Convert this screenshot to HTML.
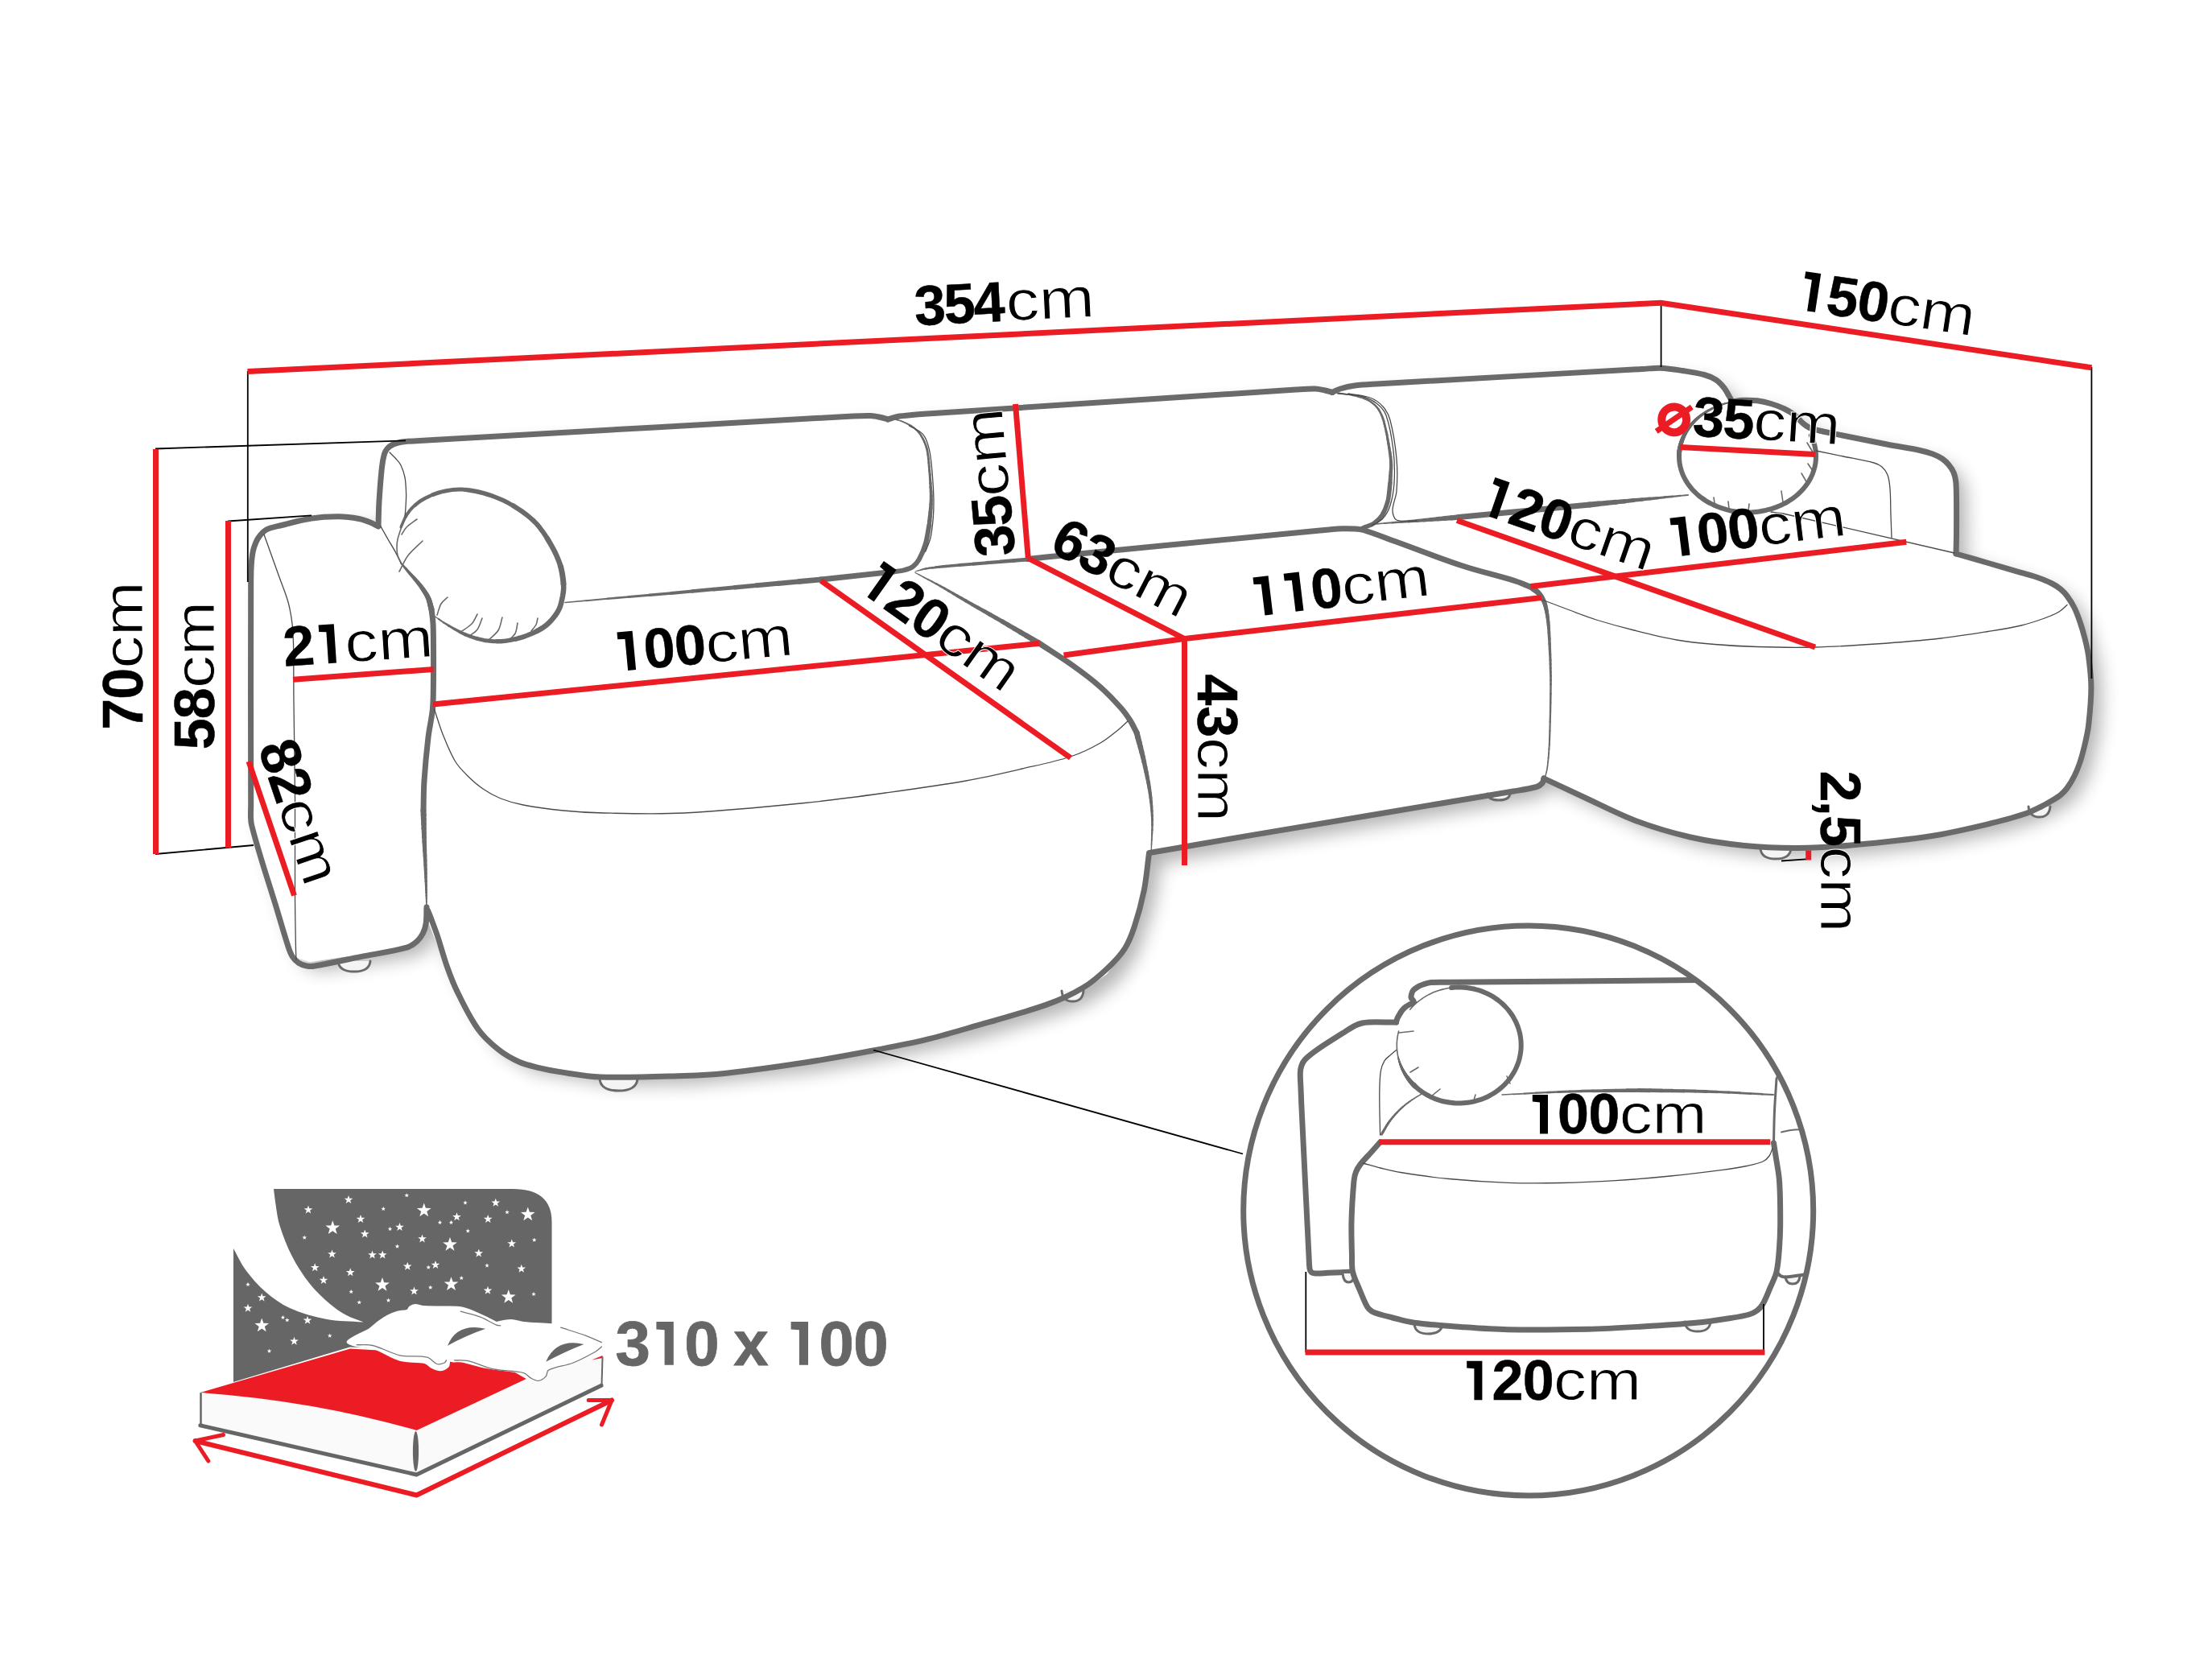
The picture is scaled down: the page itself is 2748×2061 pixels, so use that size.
<!DOCTYPE html>
<html><head><meta charset="utf-8"><title>Sofa dimensions</title>
<style>
html,body{margin:0;padding:0;background:#fff;}
body{width:2748px;height:2061px;overflow:hidden;}
svg{display:block;font-family:"Liberation Sans",sans-serif;}
</style></head><body>
<svg width="2748" height="2061" viewBox="0 0 2748 2061">
<defs>
<filter id="sh" x="-5%" y="-5%" width="112%" height="115%">
<feGaussianBlur in="SourceAlpha" stdDeviation="11"/>
<feOffset dx="13" dy="11" result="o"/>
<feComponentTransfer><feFuncA type="linear" slope="0.3"/></feComponentTransfer>
<feMerge><feMergeNode/><feMergeNode in="SourceGraphic"/></feMerge>
</filter>
</defs>
<rect width="2748" height="2061" fill="#fff"/>
<path d="M312 700 L318 673 L330 658 L387 642.5 L445 642 L470 652 L472 605 L477 565 L487 553 L504 548 L1080 516 L1103 520 L1133 515 L1633 482.5 L1655 487 L1683 478.5 L2063 457 L2117 465.5 L2142 482 L2152 498 L2183 497.5 L2217 507.5 L2240 526 L2260 535 L2344 552 L2401 564 L2421 577.5 L2429.5 598 L2430.5 653 L2430 687 L2505 709.8 L2549 725 L2568 740.6 L2584 772 L2595 816 L2598 853 L2595 900 L2584 947 L2568 979 L2549 994.5 L2518 1010 L2474 1022.7 L2400 1038.5 L2300 1050 L2233 1053.5 L2167 1050.5 L2100 1040 L2033 1020 L1967 990 L1917 967 L1900 980 L1430 1061 L1420 1115 L1400 1175 L1375 1210 L1340 1235 L1300 1250 L1200 1280 L1085 1305 L1000 1320 L850 1336 L750 1337 L650 1320 L610 1295 L580 1250 L550 1190 L530 1140 L521 1167 L503 1177 L385 1195 L365 1188 L350 1155 L312 1024Z" fill="#fff" filter="url(#sh)"/>
<path d="M420 1194 Q421 1207 440 1207 Q459 1207 460 1194" fill="#f4f4f4" stroke="#6a6a6a" stroke-width="3" stroke-linecap="round" stroke-linejoin="round" />
<path d="M1319 1231 Q1320 1244 1332.5 1244 Q1345 1244 1346 1231" fill="#f4f4f4" stroke="#6a6a6a" stroke-width="3" stroke-linecap="round" stroke-linejoin="round" />
<path d="M745 1340 Q746 1355 768.5 1355 Q791 1355 792 1340" fill="#f4f4f4" stroke="#6a6a6a" stroke-width="3" stroke-linecap="round" stroke-linejoin="round" />
<path d="M1848 986 Q1849 994 1862 994 Q1875 994 1876 986" fill="#f4f4f4" stroke="#6a6a6a" stroke-width="3" stroke-linecap="round" stroke-linejoin="round" />
<path d="M2187 1054 Q2188 1067 2206 1067 Q2224 1067 2225 1054" fill="#f4f4f4" stroke="#6a6a6a" stroke-width="3" stroke-linecap="round" stroke-linejoin="round" />
<path d="M2520 1002 Q2521 1015 2533.5 1015 Q2546 1015 2547 1002" fill="#f4f4f4" stroke="#6a6a6a" stroke-width="3" stroke-linecap="round" stroke-linejoin="round" />
<path d="M530 1127 C529.7 1133.7 530.1 1140.4 529.2 1147 C528.6 1151.3 527.3 1155.7 525.4 1159.5 C523.5 1163.2 520.9 1166.9 517.8 1169.6 C514.2 1172.8 509.9 1175.9 505.2 1177.2 C486.6 1182.3 467.1 1184.8 448 1188.6 C429.1 1192.4 410.3 1196.8 391.3 1200 C387.9 1200.6 384.3 1200.6 381 1200 C377.6 1199.4 373.9 1198.1 371 1196.2 C368.1 1194.3 365.3 1191.5 363.4 1188.6 C361.1 1185.2 359.7 1181.1 358.4 1177.2 C353.6 1162.6 349.4 1147.7 345 1133 C334.2 1097 321.7 1061.3 312.6 1025 C310.6 1017 311.7 1008.3 311.7 1000 C311.4 906.7 311.5 813.3 311.7 720 C311.7 712.7 311.9 705.3 312.5 698 C313 692.6 313.5 687.2 315 682 C316.4 677.2 318.2 672.1 321 668 C323.6 664.1 327 660.2 331 658 C336.6 655 343.6 654.1 350 652.5 C362.3 649.4 374.5 645.9 387 644 C398.2 642.3 409.7 641.7 421 641.8 C429.4 641.9 437.8 643 446 644.5 C450.8 645.4 455.5 647.2 460 649 C463.5 650.4 466.7 652.3 470 654" fill="none" stroke="#6a6a6a" stroke-width="7" stroke-linecap="round" stroke-linejoin="round" />
<path d="M470 653.5 C470.3 643.3 470.4 633.2 471 623 C471.9 608.7 472.9 594.3 474.5 580 C475.1 574.6 476 569.2 477.5 564 C478.2 561.7 479.4 559.3 481 557.5 C482.8 555.5 485.1 553.7 487.5 552.5 C490.4 551 493.8 550.3 497 549.5 C499.3 548.9 501.7 548.7 504 548.5 C512.7 547.8 521.3 547.5 530 547 C706.7 537 883.3 526.8 1060 517 C1067.3 516.6 1074.7 516.2 1082 516.5 C1086 516.7 1090 517.7 1094 518.5 C1097 519.2 1100 520.2 1103 521" fill="none" stroke="#6a6a6a" stroke-width="7" stroke-linecap="round" stroke-linejoin="round" />
<line x1="1103" y1="520" x2="1104.8" y2="520.2" stroke="#6a6a6a" stroke-width="1.2" stroke-linecap="round"/>
<line x1="1104.8" y1="520.2" x2="1106.7" y2="520.4" stroke="#6a6a6a" stroke-width="1.2" stroke-linecap="round"/>
<line x1="1106.7" y1="520.4" x2="1108.5" y2="520.6" stroke="#6a6a6a" stroke-width="1.3" stroke-linecap="round"/>
<line x1="1108.5" y1="520.6" x2="1110.4" y2="520.8" stroke="#6a6a6a" stroke-width="1.3" stroke-linecap="round"/>
<line x1="1110.4" y1="520.8" x2="1112.2" y2="521.1" stroke="#6a6a6a" stroke-width="1.4" stroke-linecap="round"/>
<line x1="1112.2" y1="521.1" x2="1114" y2="521.5" stroke="#6a6a6a" stroke-width="1.4" stroke-linecap="round"/>
<line x1="1114" y1="521.5" x2="1115.7" y2="521.9" stroke="#6a6a6a" stroke-width="1.5" stroke-linecap="round"/>
<line x1="1115.7" y1="521.9" x2="1117.4" y2="522.4" stroke="#6a6a6a" stroke-width="1.5" stroke-linecap="round"/>
<line x1="1117.4" y1="522.4" x2="1119.1" y2="523" stroke="#6a6a6a" stroke-width="1.5" stroke-linecap="round"/>
<line x1="1119.1" y1="523" x2="1120.7" y2="523.6" stroke="#6a6a6a" stroke-width="1.6" stroke-linecap="round"/>
<line x1="1120.7" y1="523.6" x2="1122.4" y2="524.3" stroke="#6a6a6a" stroke-width="1.6" stroke-linecap="round"/>
<line x1="1122.4" y1="524.3" x2="1124" y2="525" stroke="#6a6a6a" stroke-width="1.7" stroke-linecap="round"/>
<line x1="1124" y1="525" x2="1125.7" y2="525.8" stroke="#6a6a6a" stroke-width="1.7" stroke-linecap="round"/>
<line x1="1125.7" y1="525.8" x2="1127.4" y2="526.6" stroke="#6a6a6a" stroke-width="1.8" stroke-linecap="round"/>
<line x1="1127.4" y1="526.6" x2="1129.1" y2="527.5" stroke="#6a6a6a" stroke-width="1.8" stroke-linecap="round"/>
<line x1="1129.1" y1="527.5" x2="1130.8" y2="528.4" stroke="#6a6a6a" stroke-width="1.8" stroke-linecap="round"/>
<line x1="1130.8" y1="528.4" x2="1132.4" y2="529.4" stroke="#6a6a6a" stroke-width="1.9" stroke-linecap="round"/>
<line x1="1132.4" y1="529.4" x2="1134" y2="530.5" stroke="#6a6a6a" stroke-width="1.9" stroke-linecap="round"/>
<line x1="1134" y1="530.5" x2="1135.5" y2="531.6" stroke="#6a6a6a" stroke-width="2" stroke-linecap="round"/>
<line x1="1135.5" y1="531.6" x2="1136.9" y2="532.8" stroke="#6a6a6a" stroke-width="2" stroke-linecap="round"/>
<line x1="1136.9" y1="532.8" x2="1138.2" y2="534" stroke="#6a6a6a" stroke-width="2.1" stroke-linecap="round"/>
<line x1="1138.2" y1="534" x2="1139.6" y2="535.3" stroke="#6a6a6a" stroke-width="2.1" stroke-linecap="round"/>
<line x1="1139.6" y1="535.3" x2="1140.8" y2="536.6" stroke="#6a6a6a" stroke-width="2.1" stroke-linecap="round"/>
<line x1="1140.8" y1="536.6" x2="1142" y2="538" stroke="#6a6a6a" stroke-width="2.2" stroke-linecap="round"/>
<line x1="1142" y1="538" x2="1143.1" y2="539.4" stroke="#6a6a6a" stroke-width="2.2" stroke-linecap="round"/>
<line x1="1143.1" y1="539.4" x2="1144.1" y2="540.8" stroke="#6a6a6a" stroke-width="2.3" stroke-linecap="round"/>
<line x1="1144.1" y1="540.8" x2="1145" y2="542.3" stroke="#6a6a6a" stroke-width="2.3" stroke-linecap="round"/>
<line x1="1145" y1="542.3" x2="1145.9" y2="543.9" stroke="#6a6a6a" stroke-width="2.4" stroke-linecap="round"/>
<line x1="1145.9" y1="543.9" x2="1146.7" y2="545.4" stroke="#6a6a6a" stroke-width="2.4" stroke-linecap="round"/>
<line x1="1146.7" y1="545.4" x2="1147.5" y2="547" stroke="#6a6a6a" stroke-width="2.4" stroke-linecap="round"/>
<line x1="1147.5" y1="547" x2="1148.4" y2="549.1" stroke="#6a6a6a" stroke-width="2.5" stroke-linecap="round"/>
<line x1="1148.4" y1="549.1" x2="1149.3" y2="551.2" stroke="#6a6a6a" stroke-width="2.5" stroke-linecap="round"/>
<line x1="1149.3" y1="551.2" x2="1150.2" y2="553.4" stroke="#6a6a6a" stroke-width="2.6" stroke-linecap="round"/>
<line x1="1150.2" y1="553.4" x2="1150.9" y2="555.6" stroke="#6a6a6a" stroke-width="2.6" stroke-linecap="round"/>
<line x1="1150.9" y1="555.6" x2="1151.5" y2="557.8" stroke="#6a6a6a" stroke-width="2.7" stroke-linecap="round"/>
<line x1="1151.5" y1="557.8" x2="1152" y2="560" stroke="#6a6a6a" stroke-width="2.7" stroke-linecap="round"/>
<line x1="1152" y1="560" x2="1152.8" y2="564.9" stroke="#6a6a6a" stroke-width="2.7" stroke-linecap="round"/>
<line x1="1152.8" y1="564.9" x2="1153.4" y2="569.8" stroke="#6a6a6a" stroke-width="2.8" stroke-linecap="round"/>
<line x1="1153.4" y1="569.8" x2="1153.9" y2="574.8" stroke="#6a6a6a" stroke-width="2.8" stroke-linecap="round"/>
<line x1="1153.9" y1="574.8" x2="1154.3" y2="579.8" stroke="#6a6a6a" stroke-width="2.9" stroke-linecap="round"/>
<line x1="1154.3" y1="579.8" x2="1154.7" y2="584.7" stroke="#6a6a6a" stroke-width="2.9" stroke-linecap="round"/>
<line x1="1154.7" y1="584.7" x2="1155.2" y2="589.7" stroke="#6a6a6a" stroke-width="3" stroke-linecap="round"/>
<line x1="1155.2" y1="589.7" x2="1155.5" y2="594.9" stroke="#6a6a6a" stroke-width="3" stroke-linecap="round"/>
<line x1="1155.5" y1="594.9" x2="1155.9" y2="600.1" stroke="#6a6a6a" stroke-width="3.2" stroke-linecap="round"/>
<line x1="1155.9" y1="600.1" x2="1156.2" y2="605.4" stroke="#6a6a6a" stroke-width="3.4" stroke-linecap="round"/>
<line x1="1156.2" y1="605.4" x2="1156.6" y2="610.6" stroke="#6a6a6a" stroke-width="3.6" stroke-linecap="round"/>
<line x1="1156.6" y1="610.6" x2="1156.8" y2="615.8" stroke="#6a6a6a" stroke-width="3.8" stroke-linecap="round"/>
<line x1="1156.8" y1="615.8" x2="1156.8" y2="621" stroke="#6a6a6a" stroke-width="4" stroke-linecap="round"/>
<line x1="1156.8" y1="621" x2="1156.6" y2="626.2" stroke="#6a6a6a" stroke-width="4.2" stroke-linecap="round"/>
<line x1="1156.6" y1="626.2" x2="1156.3" y2="631.5" stroke="#6a6a6a" stroke-width="4.5" stroke-linecap="round"/>
<line x1="1156.3" y1="631.5" x2="1155.8" y2="636.7" stroke="#6a6a6a" stroke-width="4.7" stroke-linecap="round"/>
<line x1="1155.8" y1="636.7" x2="1155.3" y2="641.9" stroke="#6a6a6a" stroke-width="4.9" stroke-linecap="round"/>
<line x1="1155.3" y1="641.9" x2="1154.8" y2="647.2" stroke="#6a6a6a" stroke-width="5.1" stroke-linecap="round"/>
<line x1="1154.8" y1="647.2" x2="1154.4" y2="652.4" stroke="#6a6a6a" stroke-width="5.3" stroke-linecap="round"/>
<path d="M1154.4 652.4 C1152.8 660.2 1152 668.3 1149.7 675.9 C1147.8 682.4 1145.2 688.8 1141.9 694.7 C1139.9 698.2 1137.2 701.7 1134 704 C1130.9 706.2 1126.8 707.3 1123 708.3 C1118.9 709.4 1114.7 709.6 1110.5 710.2" fill="none" stroke="#6a6a6a" stroke-width="6" stroke-linecap="round" stroke-linejoin="round" />
<path d="M1110.5 710.2 L1020 720" fill="none" stroke="#6a6a6a" stroke-width="6.8" stroke-linecap="round" stroke-linejoin="round" />
<line x1="1020" y1="720" x2="993.3" y2="722.4" stroke="#6a6a6a" stroke-width="6.8" stroke-linecap="round"/>
<line x1="993.3" y1="722.4" x2="966.7" y2="724.8" stroke="#6a6a6a" stroke-width="6.3" stroke-linecap="round"/>
<line x1="966.7" y1="724.8" x2="940" y2="727.3" stroke="#6a6a6a" stroke-width="5.9" stroke-linecap="round"/>
<line x1="940" y1="727.3" x2="913.3" y2="729.7" stroke="#6a6a6a" stroke-width="5.4" stroke-linecap="round"/>
<line x1="913.3" y1="729.7" x2="886.7" y2="732.1" stroke="#6a6a6a" stroke-width="4.9" stroke-linecap="round"/>
<line x1="886.7" y1="732.1" x2="860" y2="734.5" stroke="#6a6a6a" stroke-width="4.5" stroke-linecap="round"/>
<line x1="860" y1="734.5" x2="833.7" y2="736.9" stroke="#6a6a6a" stroke-width="4" stroke-linecap="round"/>
<line x1="833.7" y1="736.9" x2="807.3" y2="739.2" stroke="#6a6a6a" stroke-width="3.5" stroke-linecap="round"/>
<line x1="807.3" y1="739.2" x2="781" y2="741.5" stroke="#6a6a6a" stroke-width="3.1" stroke-linecap="round"/>
<line x1="781" y1="741.5" x2="754.7" y2="743.8" stroke="#6a6a6a" stroke-width="2.6" stroke-linecap="round"/>
<line x1="754.7" y1="743.8" x2="728.3" y2="746.2" stroke="#6a6a6a" stroke-width="2.1" stroke-linecap="round"/>
<line x1="728.3" y1="746.2" x2="702" y2="748.5" stroke="#6a6a6a" stroke-width="1.7" stroke-linecap="round"/>
<path d="M1103 521 C1107 519.8 1110.9 518.2 1115 517.5 C1120.9 516.4 1127 516 1133 515.5 C1142 514.7 1151 514.1 1160 513.5 C1310 503.6 1460 493.7 1610 484 C1618 483.5 1626 482.8 1634 483 C1638 483.1 1642 484.2 1646 485 C1649 485.7 1652 486.7 1655 487.5" fill="none" stroke="#6a6a6a" stroke-width="7" stroke-linecap="round" stroke-linejoin="round" />
<line x1="1655" y1="487" x2="1657.2" y2="487.3" stroke="#6a6a6a" stroke-width="1.2" stroke-linecap="round"/>
<line x1="1657.2" y1="487.3" x2="1659.3" y2="487.7" stroke="#6a6a6a" stroke-width="1.2" stroke-linecap="round"/>
<line x1="1659.3" y1="487.7" x2="1661.5" y2="488" stroke="#6a6a6a" stroke-width="1.3" stroke-linecap="round"/>
<line x1="1661.5" y1="488" x2="1663.7" y2="488.3" stroke="#6a6a6a" stroke-width="1.3" stroke-linecap="round"/>
<line x1="1663.7" y1="488.3" x2="1665.8" y2="488.6" stroke="#6a6a6a" stroke-width="1.4" stroke-linecap="round"/>
<line x1="1665.8" y1="488.6" x2="1668" y2="489" stroke="#6a6a6a" stroke-width="1.4" stroke-linecap="round"/>
<line x1="1668" y1="489" x2="1670.3" y2="489.4" stroke="#6a6a6a" stroke-width="1.5" stroke-linecap="round"/>
<line x1="1670.3" y1="489.4" x2="1672.7" y2="489.7" stroke="#6a6a6a" stroke-width="1.6" stroke-linecap="round"/>
<line x1="1672.7" y1="489.7" x2="1675" y2="490.1" stroke="#6a6a6a" stroke-width="1.6" stroke-linecap="round"/>
<line x1="1675" y1="490.1" x2="1677.4" y2="490.5" stroke="#6a6a6a" stroke-width="1.6" stroke-linecap="round"/>
<line x1="1677.4" y1="490.5" x2="1679.7" y2="491" stroke="#6a6a6a" stroke-width="1.7" stroke-linecap="round"/>
<line x1="1679.7" y1="491" x2="1682" y2="491.5" stroke="#6a6a6a" stroke-width="1.8" stroke-linecap="round"/>
<line x1="1682" y1="491.5" x2="1684.9" y2="492.2" stroke="#6a6a6a" stroke-width="1.8" stroke-linecap="round"/>
<line x1="1684.9" y1="492.2" x2="1687.8" y2="493" stroke="#6a6a6a" stroke-width="1.9" stroke-linecap="round"/>
<line x1="1687.8" y1="493" x2="1690.7" y2="493.8" stroke="#6a6a6a" stroke-width="1.9" stroke-linecap="round"/>
<line x1="1690.7" y1="493.8" x2="1693.6" y2="494.7" stroke="#6a6a6a" stroke-width="1.9" stroke-linecap="round"/>
<line x1="1693.6" y1="494.7" x2="1696.3" y2="495.8" stroke="#6a6a6a" stroke-width="2" stroke-linecap="round"/>
<line x1="1696.3" y1="495.8" x2="1699" y2="497" stroke="#6a6a6a" stroke-width="2" stroke-linecap="round"/>
<line x1="1699" y1="497" x2="1701.2" y2="498.2" stroke="#6a6a6a" stroke-width="2.1" stroke-linecap="round"/>
<line x1="1701.2" y1="498.2" x2="1703.4" y2="499.6" stroke="#6a6a6a" stroke-width="2.1" stroke-linecap="round"/>
<line x1="1703.4" y1="499.6" x2="1705.5" y2="501.2" stroke="#6a6a6a" stroke-width="2.2" stroke-linecap="round"/>
<line x1="1705.5" y1="501.2" x2="1707.5" y2="502.8" stroke="#6a6a6a" stroke-width="2.2" stroke-linecap="round"/>
<line x1="1707.5" y1="502.8" x2="1709.3" y2="504.6" stroke="#6a6a6a" stroke-width="2.3" stroke-linecap="round"/>
<line x1="1709.3" y1="504.6" x2="1711" y2="506.5" stroke="#6a6a6a" stroke-width="2.3" stroke-linecap="round"/>
<line x1="1711" y1="506.5" x2="1712.5" y2="508.5" stroke="#6a6a6a" stroke-width="2.4" stroke-linecap="round"/>
<line x1="1712.5" y1="508.5" x2="1713.8" y2="510.6" stroke="#6a6a6a" stroke-width="2.5" stroke-linecap="round"/>
<line x1="1713.8" y1="510.6" x2="1715" y2="512.9" stroke="#6a6a6a" stroke-width="2.5" stroke-linecap="round"/>
<line x1="1715" y1="512.9" x2="1716.1" y2="515.2" stroke="#6a6a6a" stroke-width="2.5" stroke-linecap="round"/>
<line x1="1716.1" y1="515.2" x2="1717.1" y2="517.6" stroke="#6a6a6a" stroke-width="2.6" stroke-linecap="round"/>
<line x1="1717.1" y1="517.6" x2="1718" y2="520" stroke="#6a6a6a" stroke-width="2.7" stroke-linecap="round"/>
<line x1="1718" y1="520" x2="1719.1" y2="523.2" stroke="#6a6a6a" stroke-width="2.7" stroke-linecap="round"/>
<line x1="1719.1" y1="523.2" x2="1719.9" y2="526.6" stroke="#6a6a6a" stroke-width="2.8" stroke-linecap="round"/>
<line x1="1719.9" y1="526.6" x2="1720.7" y2="529.9" stroke="#6a6a6a" stroke-width="2.8" stroke-linecap="round"/>
<line x1="1720.7" y1="529.9" x2="1721.5" y2="533.3" stroke="#6a6a6a" stroke-width="2.8" stroke-linecap="round"/>
<line x1="1721.5" y1="533.3" x2="1722.2" y2="536.6" stroke="#6a6a6a" stroke-width="2.9" stroke-linecap="round"/>
<line x1="1722.2" y1="536.6" x2="1723" y2="540" stroke="#6a6a6a" stroke-width="3" stroke-linecap="round"/>
<line x1="1723" y1="540" x2="1723.9" y2="545.5" stroke="#6a6a6a" stroke-width="3" stroke-linecap="round"/>
<line x1="1723.9" y1="545.5" x2="1724.9" y2="551" stroke="#6a6a6a" stroke-width="3.2" stroke-linecap="round"/>
<line x1="1724.9" y1="551" x2="1725.8" y2="556.5" stroke="#6a6a6a" stroke-width="3.3" stroke-linecap="round"/>
<line x1="1725.8" y1="556.5" x2="1726.7" y2="562" stroke="#6a6a6a" stroke-width="3.5" stroke-linecap="round"/>
<line x1="1726.7" y1="562" x2="1727.5" y2="567.5" stroke="#6a6a6a" stroke-width="3.7" stroke-linecap="round"/>
<line x1="1727.5" y1="567.5" x2="1728" y2="573" stroke="#6a6a6a" stroke-width="3.8" stroke-linecap="round"/>
<line x1="1728" y1="573" x2="1728.2" y2="577.5" stroke="#6a6a6a" stroke-width="4" stroke-linecap="round"/>
<line x1="1728.2" y1="577.5" x2="1728.1" y2="582" stroke="#6a6a6a" stroke-width="4.2" stroke-linecap="round"/>
<line x1="1728.1" y1="582" x2="1727.8" y2="586.5" stroke="#6a6a6a" stroke-width="4.3" stroke-linecap="round"/>
<line x1="1727.8" y1="586.5" x2="1727.5" y2="591" stroke="#6a6a6a" stroke-width="4.5" stroke-linecap="round"/>
<line x1="1727.5" y1="591" x2="1727.2" y2="595.5" stroke="#6a6a6a" stroke-width="4.7" stroke-linecap="round"/>
<line x1="1727.2" y1="595.5" x2="1727" y2="600" stroke="#6a6a6a" stroke-width="4.8" stroke-linecap="round"/>
<path d="M1727 600 C1726 607.7 1725.9 615.6 1724 623 C1722.5 628.9 1720.2 634.9 1717 640 C1714.5 643.9 1710.9 647.4 1707 650 C1702.9 652.8 1697.7 654 1693 656" fill="none" stroke="#6a6a6a" stroke-width="5.5" stroke-linecap="round" stroke-linejoin="round" />
<path d="M1655 487.5 C1658.3 486 1661.5 484.1 1665 483 C1670.9 481.2 1676.9 479.8 1683 479 C1691.9 477.8 1701 477.5 1710 477 C1820 470.7 1930 464.7 2040 458.5 C2047.7 458.1 2055.4 456.9 2063 457.2 C2072 457.6 2081 459.1 2090 460.5 C2099 461.9 2108.2 463.1 2117 465.5 C2122.2 466.9 2127.5 469.1 2132 472 C2135.9 474.6 2139.1 478.3 2142 482 C2144.4 485 2146 488.6 2148 492 C2149.4 494.3 2150.7 496.7 2152 499" fill="none" stroke="#6a6a6a" stroke-width="7" stroke-linecap="round" stroke-linejoin="round" />
<path d="M2152 499 C2156.3 498.4 2160.6 497.5 2165 497.3 C2171 497.1 2177.1 497.1 2183 497.8 C2188.7 498.5 2194.5 499.8 2200 501.5 C2205.8 503.2 2211.6 505.4 2217 508 C2221.6 510.2 2226 512.9 2230 516 C2233.7 518.9 2236.4 522.9 2240 526 C2242.4 528.1 2245.1 530.2 2248 531.5 C2251.8 533.2 2256 534 2260 535 C2265.6 536.4 2271.3 537.4 2277 538.5 C2299.3 543 2321.6 547.7 2344 552 C2357.6 554.7 2371.4 556.6 2385 559.5 C2390.4 560.6 2395.8 562.1 2401 564 C2405.2 565.6 2409.3 567.5 2413 570 C2416 572 2418.7 574.7 2421 577.5 C2423.4 580.4 2425.6 583.6 2427 587 C2428.5 590.4 2429.3 594.3 2429.7 598 C2430.5 605.3 2430.4 612.7 2430.5 620 C2430.7 635 2430.6 650 2430.5 665 C2430.4 672.7 2430.2 680.3 2430 688" fill="none" stroke="#6a6a6a" stroke-width="7" stroke-linecap="round" stroke-linejoin="round" />
<path d="M2430 688 C2443.3 691.8 2456.7 695.6 2470 699.5 C2481.8 702.9 2493.6 706.4 2505.4 709.8 C2513.6 712.2 2521.9 714.2 2530 717 C2536.6 719.3 2543.1 721.9 2549.3 725 C2553.1 726.9 2556.7 729.3 2560 732 C2563 734.5 2565.8 737.4 2568.1 740.6 C2571.4 745.1 2574.5 750 2577 755 C2579.7 760.4 2581.8 766.2 2583.8 772 C2586.2 778.9 2588.2 785.9 2590 793 C2591.9 800.6 2593.7 808.2 2594.7 815.9 C2596.3 828.4 2597.9 841 2597.9 853.5 C2597.9 869.2 2596.4 884.9 2594.7 900.5 C2593.8 908.8 2591.9 916.9 2590 925 C2588.2 932.6 2586.3 940.1 2583.8 947.5 C2581.9 953.1 2579.7 958.7 2577 964 C2574.4 969.2 2571.5 974.2 2568.1 978.9 C2565.8 982.1 2563 985 2560 987.5 C2556.7 990.2 2553 992.3 2549.3 994.5 C2544.6 997.3 2539.9 1000.1 2535 1002.5 C2529.4 1005.3 2523.8 1008.2 2517.9 1010.2 C2503.5 1015 2488.8 1019.2 2474 1022.7 C2449.5 1028.6 2424.9 1034.6 2400 1038.5 C2366.9 1043.7 2333.4 1047 2300 1050 C2277.7 1052 2255.3 1053.4 2233 1053.5 C2211 1053.6 2188.9 1052.7 2167 1050.5 C2144.5 1048.2 2122 1045 2100 1040 C2077.3 1034.8 2054.8 1028.2 2033 1020 C2010.4 1011.5 1988.9 1000.1 1967 990 C1950.6 982.4 1934.3 974.7 1918 967" fill="none" stroke="#6a6a6a" stroke-width="7" stroke-linecap="round" stroke-linejoin="round" />
<path d="M1918 967 C1917.3 969 1917.3 971.5 1916 973 C1914.3 975 1911.6 976.8 1909 977.5 C1899.6 980.1 1889.7 981.4 1880 983 C1770 1001.7 1660 1019.8 1550 1038.4 C1520 1043.5 1490 1048.8 1460 1054 C1449.3 1055.8 1438.7 1057.7 1428 1059.5" fill="none" stroke="#6a6a6a" stroke-width="7" stroke-linecap="round" stroke-linejoin="round" />
<line x1="1137" y1="711.5" x2="1142.2" y2="714.2" stroke="#6a6a6a" stroke-width="1.3" stroke-linecap="round"/>
<line x1="1142.2" y1="714.2" x2="1147.4" y2="717" stroke="#6a6a6a" stroke-width="1.5" stroke-linecap="round"/>
<line x1="1147.4" y1="717" x2="1152.5" y2="719.7" stroke="#6a6a6a" stroke-width="1.8" stroke-linecap="round"/>
<line x1="1152.5" y1="719.7" x2="1157.7" y2="722.4" stroke="#6a6a6a" stroke-width="2" stroke-linecap="round"/>
<line x1="1157.7" y1="722.4" x2="1162.9" y2="725.2" stroke="#6a6a6a" stroke-width="2.2" stroke-linecap="round"/>
<line x1="1162.9" y1="725.2" x2="1168" y2="728" stroke="#6a6a6a" stroke-width="2.5" stroke-linecap="round"/>
<line x1="1168" y1="728" x2="1173.4" y2="731" stroke="#6a6a6a" stroke-width="2.7" stroke-linecap="round"/>
<line x1="1173.4" y1="731" x2="1178.7" y2="734.1" stroke="#6a6a6a" stroke-width="3" stroke-linecap="round"/>
<line x1="1178.7" y1="734.1" x2="1184" y2="737.2" stroke="#6a6a6a" stroke-width="3.2" stroke-linecap="round"/>
<line x1="1184" y1="737.2" x2="1189.3" y2="740.3" stroke="#6a6a6a" stroke-width="3.4" stroke-linecap="round"/>
<line x1="1189.3" y1="740.3" x2="1194.7" y2="743.4" stroke="#6a6a6a" stroke-width="3.7" stroke-linecap="round"/>
<line x1="1194.7" y1="743.4" x2="1200" y2="746.5" stroke="#6a6a6a" stroke-width="3.9" stroke-linecap="round"/>
<line x1="1200" y1="746.5" x2="1207.5" y2="750.8" stroke="#6a6a6a" stroke-width="4.2" stroke-linecap="round"/>
<line x1="1207.5" y1="750.8" x2="1215" y2="755" stroke="#6a6a6a" stroke-width="4.4" stroke-linecap="round"/>
<line x1="1215" y1="755" x2="1222.5" y2="759.2" stroke="#6a6a6a" stroke-width="4.6" stroke-linecap="round"/>
<line x1="1222.5" y1="759.2" x2="1230" y2="763.5" stroke="#6a6a6a" stroke-width="4.9" stroke-linecap="round"/>
<line x1="1230" y1="763.5" x2="1237.5" y2="767.7" stroke="#6a6a6a" stroke-width="5.1" stroke-linecap="round"/>
<line x1="1237.5" y1="767.7" x2="1245" y2="772" stroke="#6a6a6a" stroke-width="5.3" stroke-linecap="round"/>
<line x1="1245" y1="772" x2="1252.5" y2="776.4" stroke="#6a6a6a" stroke-width="5.6" stroke-linecap="round"/>
<line x1="1252.5" y1="776.4" x2="1260" y2="780.8" stroke="#6a6a6a" stroke-width="5.8" stroke-linecap="round"/>
<line x1="1260" y1="780.8" x2="1267.5" y2="785.2" stroke="#6a6a6a" stroke-width="6" stroke-linecap="round"/>
<line x1="1267.5" y1="785.2" x2="1275" y2="789.6" stroke="#6a6a6a" stroke-width="6.3" stroke-linecap="round"/>
<line x1="1275" y1="789.6" x2="1282.5" y2="794.1" stroke="#6a6a6a" stroke-width="6.5" stroke-linecap="round"/>
<line x1="1282.5" y1="794.1" x2="1290" y2="798.5" stroke="#6a6a6a" stroke-width="6.8" stroke-linecap="round"/>
<path d="M1290 798.5 C1304.3 808 1319 817 1333 827 C1344.7 835.3 1356.3 844 1367 853.5 C1376.3 861.7 1384.8 870.8 1393 880 C1397.1 884.6 1400.7 889.8 1404 895 C1407.1 899.9 1409.5 905.2 1412.2 910.3" fill="none" stroke="#6a6a6a" stroke-width="7" stroke-linecap="round" stroke-linejoin="round" />
<line x1="1412.2" y1="910.3" x2="1413.7" y2="916.3" stroke="#6a6a6a" stroke-width="7" stroke-linecap="round"/>
<line x1="1413.7" y1="916.3" x2="1415.3" y2="922.3" stroke="#6a6a6a" stroke-width="6.8" stroke-linecap="round"/>
<line x1="1415.3" y1="922.3" x2="1416.9" y2="928.4" stroke="#6a6a6a" stroke-width="6.5" stroke-linecap="round"/>
<line x1="1416.9" y1="928.4" x2="1418.4" y2="934.4" stroke="#6a6a6a" stroke-width="6.3" stroke-linecap="round"/>
<line x1="1418.4" y1="934.4" x2="1419.9" y2="940.4" stroke="#6a6a6a" stroke-width="6" stroke-linecap="round"/>
<line x1="1419.9" y1="940.4" x2="1421.3" y2="946.5" stroke="#6a6a6a" stroke-width="5.8" stroke-linecap="round"/>
<line x1="1421.3" y1="946.5" x2="1422.7" y2="953" stroke="#6a6a6a" stroke-width="5.5" stroke-linecap="round"/>
<line x1="1422.7" y1="953" x2="1424.1" y2="959.5" stroke="#6a6a6a" stroke-width="5.3" stroke-linecap="round"/>
<line x1="1424.1" y1="959.5" x2="1425.4" y2="966" stroke="#6a6a6a" stroke-width="5.1" stroke-linecap="round"/>
<line x1="1425.4" y1="966" x2="1426.7" y2="972.5" stroke="#6a6a6a" stroke-width="4.8" stroke-linecap="round"/>
<line x1="1426.7" y1="972.5" x2="1427.8" y2="979" stroke="#6a6a6a" stroke-width="4.6" stroke-linecap="round"/>
<line x1="1427.8" y1="979" x2="1428.8" y2="985.6" stroke="#6a6a6a" stroke-width="4.3" stroke-linecap="round"/>
<line x1="1428.8" y1="985.6" x2="1429.5" y2="991.1" stroke="#6a6a6a" stroke-width="4.1" stroke-linecap="round"/>
<line x1="1429.5" y1="991.1" x2="1430.1" y2="996.6" stroke="#6a6a6a" stroke-width="3.9" stroke-linecap="round"/>
<line x1="1430.1" y1="996.6" x2="1430.6" y2="1002.2" stroke="#6a6a6a" stroke-width="3.6" stroke-linecap="round"/>
<line x1="1430.6" y1="1002.2" x2="1431" y2="1007.7" stroke="#6a6a6a" stroke-width="3.4" stroke-linecap="round"/>
<line x1="1431" y1="1007.7" x2="1431.3" y2="1013.3" stroke="#6a6a6a" stroke-width="3.1" stroke-linecap="round"/>
<line x1="1431.3" y1="1013.3" x2="1431.5" y2="1018.8" stroke="#6a6a6a" stroke-width="2.9" stroke-linecap="round"/>
<line x1="1431.5" y1="1018.8" x2="1431.5" y2="1025" stroke="#6a6a6a" stroke-width="2.7" stroke-linecap="round"/>
<line x1="1431.5" y1="1025" x2="1431.4" y2="1031.2" stroke="#6a6a6a" stroke-width="2.4" stroke-linecap="round"/>
<line x1="1431.4" y1="1031.2" x2="1431.1" y2="1037.4" stroke="#6a6a6a" stroke-width="2.2" stroke-linecap="round"/>
<line x1="1431.1" y1="1037.4" x2="1430.8" y2="1043.6" stroke="#6a6a6a" stroke-width="1.9" stroke-linecap="round"/>
<line x1="1430.8" y1="1043.6" x2="1430.5" y2="1049.8" stroke="#6a6a6a" stroke-width="1.7" stroke-linecap="round"/>
<line x1="1430.5" y1="1049.8" x2="1430.3" y2="1056" stroke="#6a6a6a" stroke-width="1.4" stroke-linecap="round"/>
<path d="M1427.5 1060 C1425.4 1075.3 1424.3 1090.9 1421.3 1106 C1418.2 1121.3 1414.1 1136.6 1409.2 1151.4 C1406.1 1160.8 1402.5 1170.4 1397.2 1178.6 C1391.5 1187.5 1383.8 1195.4 1376 1202.7 C1366.7 1211.5 1356.9 1220.2 1346 1226.8 C1331.8 1235.3 1316.4 1242.4 1300.7 1247.9 C1267.7 1259.5 1233.6 1268.2 1200 1278 C1183.4 1282.8 1166.8 1287.7 1150 1291.6 C1128.5 1296.7 1106.7 1300.9 1085 1305 C1056.7 1310.4 1028.4 1315.6 1000 1320 C966.8 1325.1 933.4 1329.8 900 1333.5 C883.4 1335.3 866.7 1336 850 1336.5 C815.3 1337.5 780.4 1339.1 745.7 1338 C728.7 1337.5 711.8 1334.1 695 1331.6 C686.5 1330.3 678 1328.7 669.7 1326.6 C661.2 1324.5 652.4 1322.6 644.4 1319 C635.5 1315 626.7 1309.9 619.1 1303.8 C609.9 1296.4 600.7 1288.1 593.8 1278.5 C583.8 1264.5 576.2 1248.4 568.5 1232.9 C563.6 1223.1 559.7 1212.8 556 1202.5 C551.2 1189.2 547.7 1175.4 543.2 1162 C540.8 1154.9 538.1 1148 535.5 1141 C534.2 1137.6 532.8 1134.3 531.5 1131" fill="none" stroke="#6a6a6a" stroke-width="7" stroke-linecap="round" stroke-linejoin="round" />
<path d="M526 1007 C526.3 994.7 526.2 982.3 527 970 C528.2 952 529.9 933.9 532 916 C533.4 903.9 536.5 892.1 537.5 880 C538.6 866.7 538.3 853.3 538.5 840 C538.7 829 538.6 818 538.5 807 C538.4 796.3 538.5 785.6 538 775 C537.7 769 536.7 763 536 757" fill="none" stroke="#6a6a6a" stroke-width="7" stroke-linecap="round" stroke-linejoin="round" />
<line x1="526" y1="1007" x2="526.2" y2="1012.5" stroke="#6a6a6a" stroke-width="7" stroke-linecap="round"/>
<line x1="526.2" y1="1012.5" x2="526.3" y2="1018" stroke="#6a6a6a" stroke-width="6.8" stroke-linecap="round"/>
<line x1="526.3" y1="1018" x2="526.5" y2="1023.5" stroke="#6a6a6a" stroke-width="6.5" stroke-linecap="round"/>
<line x1="526.5" y1="1023.5" x2="526.6" y2="1029" stroke="#6a6a6a" stroke-width="6.3" stroke-linecap="round"/>
<line x1="526.6" y1="1029" x2="526.8" y2="1034.5" stroke="#6a6a6a" stroke-width="6" stroke-linecap="round"/>
<line x1="526.8" y1="1034.5" x2="527" y2="1040" stroke="#6a6a6a" stroke-width="5.8" stroke-linecap="round"/>
<line x1="527" y1="1040" x2="527.2" y2="1045.8" stroke="#6a6a6a" stroke-width="5.5" stroke-linecap="round"/>
<line x1="527.2" y1="1045.8" x2="527.5" y2="1051.7" stroke="#6a6a6a" stroke-width="5.3" stroke-linecap="round"/>
<line x1="527.5" y1="1051.7" x2="527.7" y2="1057.5" stroke="#6a6a6a" stroke-width="5.1" stroke-linecap="round"/>
<line x1="527.7" y1="1057.5" x2="528" y2="1063.3" stroke="#6a6a6a" stroke-width="4.8" stroke-linecap="round"/>
<line x1="528" y1="1063.3" x2="528.3" y2="1069.2" stroke="#6a6a6a" stroke-width="4.6" stroke-linecap="round"/>
<line x1="528.3" y1="1069.2" x2="528.5" y2="1075" stroke="#6a6a6a" stroke-width="4.3" stroke-linecap="round"/>
<line x1="528.5" y1="1075" x2="528.7" y2="1080" stroke="#6a6a6a" stroke-width="4.1" stroke-linecap="round"/>
<line x1="528.7" y1="1080" x2="528.9" y2="1085" stroke="#6a6a6a" stroke-width="3.9" stroke-linecap="round"/>
<line x1="528.9" y1="1085" x2="529" y2="1090" stroke="#6a6a6a" stroke-width="3.6" stroke-linecap="round"/>
<line x1="529" y1="1090" x2="529.2" y2="1095" stroke="#6a6a6a" stroke-width="3.4" stroke-linecap="round"/>
<line x1="529.2" y1="1095" x2="529.4" y2="1100" stroke="#6a6a6a" stroke-width="3.1" stroke-linecap="round"/>
<line x1="529.4" y1="1100" x2="529.5" y2="1105" stroke="#6a6a6a" stroke-width="2.9" stroke-linecap="round"/>
<line x1="529.5" y1="1105" x2="529.6" y2="1108.8" stroke="#6a6a6a" stroke-width="2.7" stroke-linecap="round"/>
<line x1="529.6" y1="1108.8" x2="529.7" y2="1112.7" stroke="#6a6a6a" stroke-width="2.4" stroke-linecap="round"/>
<line x1="529.7" y1="1112.7" x2="529.8" y2="1116.5" stroke="#6a6a6a" stroke-width="2.2" stroke-linecap="round"/>
<line x1="529.8" y1="1116.5" x2="529.8" y2="1120.3" stroke="#6a6a6a" stroke-width="1.9" stroke-linecap="round"/>
<line x1="529.8" y1="1120.3" x2="529.9" y2="1124.2" stroke="#6a6a6a" stroke-width="1.7" stroke-linecap="round"/>
<line x1="529.9" y1="1124.2" x2="530" y2="1128" stroke="#6a6a6a" stroke-width="1.4" stroke-linecap="round"/>
<line x1="536" y1="757" x2="535.4" y2="754.6" stroke="#6a6a6a" stroke-width="7" stroke-linecap="round"/>
<line x1="535.4" y1="754.6" x2="534.8" y2="752.3" stroke="#6a6a6a" stroke-width="6.8" stroke-linecap="round"/>
<line x1="534.8" y1="752.3" x2="534.2" y2="749.9" stroke="#6a6a6a" stroke-width="6.7" stroke-linecap="round"/>
<line x1="534.2" y1="749.9" x2="533.6" y2="747.5" stroke="#6a6a6a" stroke-width="6.5" stroke-linecap="round"/>
<line x1="533.6" y1="747.5" x2="532.9" y2="745.2" stroke="#6a6a6a" stroke-width="6.4" stroke-linecap="round"/>
<line x1="532.9" y1="745.2" x2="532" y2="743" stroke="#6a6a6a" stroke-width="6.2" stroke-linecap="round"/>
<line x1="532" y1="743" x2="530.9" y2="740.7" stroke="#6a6a6a" stroke-width="6.1" stroke-linecap="round"/>
<line x1="530.9" y1="740.7" x2="529.7" y2="738.5" stroke="#6a6a6a" stroke-width="6" stroke-linecap="round"/>
<line x1="529.7" y1="738.5" x2="528.3" y2="736.3" stroke="#6a6a6a" stroke-width="5.8" stroke-linecap="round"/>
<line x1="528.3" y1="736.3" x2="526.9" y2="734.2" stroke="#6a6a6a" stroke-width="5.7" stroke-linecap="round"/>
<line x1="526.9" y1="734.2" x2="525.5" y2="732.1" stroke="#6a6a6a" stroke-width="5.5" stroke-linecap="round"/>
<line x1="525.5" y1="732.1" x2="524" y2="730" stroke="#6a6a6a" stroke-width="5.3" stroke-linecap="round"/>
<line x1="524" y1="730" x2="522.8" y2="728.3" stroke="#6a6a6a" stroke-width="5.2" stroke-linecap="round"/>
<line x1="522.8" y1="728.3" x2="521.5" y2="726.6" stroke="#6a6a6a" stroke-width="5" stroke-linecap="round"/>
<line x1="521.5" y1="726.6" x2="520.1" y2="724.9" stroke="#6a6a6a" stroke-width="4.9" stroke-linecap="round"/>
<line x1="520.1" y1="724.9" x2="518.8" y2="723.3" stroke="#6a6a6a" stroke-width="4.8" stroke-linecap="round"/>
<line x1="518.8" y1="723.3" x2="517.4" y2="721.6" stroke="#6a6a6a" stroke-width="4.6" stroke-linecap="round"/>
<line x1="517.4" y1="721.6" x2="516" y2="720" stroke="#6a6a6a" stroke-width="4.4" stroke-linecap="round"/>
<line x1="516" y1="720" x2="514.7" y2="718.5" stroke="#6a6a6a" stroke-width="4.3" stroke-linecap="round"/>
<line x1="514.7" y1="718.5" x2="513.4" y2="717" stroke="#6a6a6a" stroke-width="4.2" stroke-linecap="round"/>
<line x1="513.4" y1="717" x2="512" y2="715.5" stroke="#6a6a6a" stroke-width="4" stroke-linecap="round"/>
<line x1="512" y1="715.5" x2="510.7" y2="714" stroke="#6a6a6a" stroke-width="3.8" stroke-linecap="round"/>
<line x1="510.7" y1="714" x2="509.3" y2="712.5" stroke="#6a6a6a" stroke-width="3.7" stroke-linecap="round"/>
<line x1="509.3" y1="712.5" x2="508" y2="711" stroke="#6a6a6a" stroke-width="3.5" stroke-linecap="round"/>
<line x1="508" y1="711" x2="507" y2="709.8" stroke="#6a6a6a" stroke-width="3.4" stroke-linecap="round"/>
<line x1="507" y1="709.8" x2="506" y2="708.7" stroke="#6a6a6a" stroke-width="3.2" stroke-linecap="round"/>
<line x1="506" y1="708.7" x2="505" y2="707.5" stroke="#6a6a6a" stroke-width="3.1" stroke-linecap="round"/>
<line x1="505" y1="707.5" x2="504" y2="706.3" stroke="#6a6a6a" stroke-width="2.9" stroke-linecap="round"/>
<line x1="504" y1="706.3" x2="503" y2="705.2" stroke="#6a6a6a" stroke-width="2.8" stroke-linecap="round"/>
<line x1="503" y1="705.2" x2="502" y2="704" stroke="#6a6a6a" stroke-width="2.6" stroke-linecap="round"/>
<line x1="502" y1="704" x2="501.3" y2="703.2" stroke="#6a6a6a" stroke-width="2.5" stroke-linecap="round"/>
<line x1="501.3" y1="703.2" x2="500.7" y2="702.5" stroke="#6a6a6a" stroke-width="2.3" stroke-linecap="round"/>
<line x1="500.7" y1="702.5" x2="500" y2="701.7" stroke="#6a6a6a" stroke-width="2.2" stroke-linecap="round"/>
<line x1="500" y1="701.7" x2="499.3" y2="701" stroke="#6a6a6a" stroke-width="2" stroke-linecap="round"/>
<line x1="499.3" y1="701" x2="498.7" y2="700.2" stroke="#6a6a6a" stroke-width="1.9" stroke-linecap="round"/>
<line x1="498.7" y1="700.2" x2="498" y2="699.5" stroke="#6a6a6a" stroke-width="1.8" stroke-linecap="round"/>
<path d="M498 699.5 C495.9 695.2 493.9 690.7 491.6 686.5 C488.6 680.9 485.2 675.5 482 670 C479 664.7 476 659.3 473 654" fill="none" stroke="#4a4a4a" stroke-width="1.4" stroke-linecap="round" stroke-linejoin="round" />
<path d="M1277 694.5 C1284.7 693.7 1292.3 692.8 1300 692 C1413.3 680.9 1526.7 669.9 1640 659 C1649 658.1 1658 657.2 1667 656.8 C1672.3 656.6 1677.7 656.7 1683 657 C1686.7 657.2 1690.5 657.4 1694 658.5 C1707.1 662.6 1720 667.8 1733 672.5 C1761 682.6 1788.7 693.7 1817 703 C1838.7 710.2 1861.2 715.1 1883 722 C1889.8 724.1 1896.3 727.3 1903 730" fill="none" stroke="#6a6a6a" stroke-width="7" stroke-linecap="round" stroke-linejoin="round" />
<line x1="1903" y1="730" x2="1904.5" y2="731.2" stroke="#6a6a6a" stroke-width="7" stroke-linecap="round"/>
<line x1="1904.5" y1="731.2" x2="1906.1" y2="732.4" stroke="#6a6a6a" stroke-width="6.9" stroke-linecap="round"/>
<line x1="1906.1" y1="732.4" x2="1907.7" y2="733.6" stroke="#6a6a6a" stroke-width="6.7" stroke-linecap="round"/>
<line x1="1907.7" y1="733.6" x2="1909.2" y2="734.8" stroke="#6a6a6a" stroke-width="6.6" stroke-linecap="round"/>
<line x1="1909.2" y1="734.8" x2="1910.7" y2="736.1" stroke="#6a6a6a" stroke-width="6.5" stroke-linecap="round"/>
<line x1="1910.7" y1="736.1" x2="1912" y2="737.5" stroke="#6a6a6a" stroke-width="6.3" stroke-linecap="round"/>
<line x1="1912" y1="737.5" x2="1913.2" y2="738.9" stroke="#6a6a6a" stroke-width="6.2" stroke-linecap="round"/>
<line x1="1913.2" y1="738.9" x2="1914.3" y2="740.4" stroke="#6a6a6a" stroke-width="6.1" stroke-linecap="round"/>
<line x1="1914.3" y1="740.4" x2="1915.4" y2="742" stroke="#6a6a6a" stroke-width="5.9" stroke-linecap="round"/>
<line x1="1915.4" y1="742" x2="1916.3" y2="743.6" stroke="#6a6a6a" stroke-width="5.8" stroke-linecap="round"/>
<line x1="1916.3" y1="743.6" x2="1917.2" y2="745.3" stroke="#6a6a6a" stroke-width="5.7" stroke-linecap="round"/>
<line x1="1917.2" y1="745.3" x2="1918" y2="747" stroke="#6a6a6a" stroke-width="5.5" stroke-linecap="round"/>
<line x1="1918" y1="747" x2="1918.8" y2="749.1" stroke="#6a6a6a" stroke-width="5.4" stroke-linecap="round"/>
<line x1="1918.8" y1="749.1" x2="1919.5" y2="751.2" stroke="#6a6a6a" stroke-width="5.3" stroke-linecap="round"/>
<line x1="1919.5" y1="751.2" x2="1920.1" y2="753.4" stroke="#6a6a6a" stroke-width="5.1" stroke-linecap="round"/>
<line x1="1920.1" y1="753.4" x2="1920.6" y2="755.6" stroke="#6a6a6a" stroke-width="5" stroke-linecap="round"/>
<line x1="1920.6" y1="755.6" x2="1921.1" y2="757.8" stroke="#6a6a6a" stroke-width="4.9" stroke-linecap="round"/>
<line x1="1921.1" y1="757.8" x2="1921.5" y2="760" stroke="#6a6a6a" stroke-width="4.7" stroke-linecap="round"/>
<line x1="1921.5" y1="760" x2="1922.1" y2="763.3" stroke="#6a6a6a" stroke-width="4.6" stroke-linecap="round"/>
<line x1="1922.1" y1="763.3" x2="1922.6" y2="766.6" stroke="#6a6a6a" stroke-width="4.5" stroke-linecap="round"/>
<line x1="1922.6" y1="766.6" x2="1923" y2="770" stroke="#6a6a6a" stroke-width="4.3" stroke-linecap="round"/>
<line x1="1923" y1="770" x2="1923.4" y2="773.3" stroke="#6a6a6a" stroke-width="4.2" stroke-linecap="round"/>
<line x1="1923.4" y1="773.3" x2="1923.7" y2="776.7" stroke="#6a6a6a" stroke-width="4.1" stroke-linecap="round"/>
<line x1="1923.7" y1="776.7" x2="1924" y2="780" stroke="#6a6a6a" stroke-width="3.9" stroke-linecap="round"/>
<line x1="1924" y1="780" x2="1924.4" y2="786.7" stroke="#6a6a6a" stroke-width="3.8" stroke-linecap="round"/>
<line x1="1924.4" y1="786.7" x2="1924.8" y2="793.3" stroke="#6a6a6a" stroke-width="3.7" stroke-linecap="round"/>
<line x1="1924.8" y1="793.3" x2="1925.1" y2="800" stroke="#6a6a6a" stroke-width="3.5" stroke-linecap="round"/>
<line x1="1925.1" y1="800" x2="1925.4" y2="806.7" stroke="#6a6a6a" stroke-width="3.4" stroke-linecap="round"/>
<line x1="1925.4" y1="806.7" x2="1925.7" y2="813.3" stroke="#6a6a6a" stroke-width="3.3" stroke-linecap="round"/>
<line x1="1925.7" y1="813.3" x2="1926" y2="820" stroke="#6a6a6a" stroke-width="3.1" stroke-linecap="round"/>
<line x1="1926" y1="820" x2="1926.1" y2="825" stroke="#6a6a6a" stroke-width="3" stroke-linecap="round"/>
<line x1="1926.1" y1="825" x2="1926.2" y2="830" stroke="#6a6a6a" stroke-width="2.9" stroke-linecap="round"/>
<line x1="1926.2" y1="830" x2="1926.3" y2="835" stroke="#6a6a6a" stroke-width="2.9" stroke-linecap="round"/>
<line x1="1926.3" y1="835" x2="1926.5" y2="840" stroke="#6a6a6a" stroke-width="2.8" stroke-linecap="round"/>
<line x1="1926.5" y1="840" x2="1926.5" y2="845" stroke="#6a6a6a" stroke-width="2.7" stroke-linecap="round"/>
<line x1="1926.5" y1="845" x2="1926.5" y2="850" stroke="#6a6a6a" stroke-width="2.6" stroke-linecap="round"/>
<line x1="1926.5" y1="850" x2="1926.4" y2="861.7" stroke="#6a6a6a" stroke-width="2.5" stroke-linecap="round"/>
<line x1="1926.4" y1="861.7" x2="1926.2" y2="873.3" stroke="#6a6a6a" stroke-width="2.5" stroke-linecap="round"/>
<line x1="1926.2" y1="873.3" x2="1926" y2="885" stroke="#6a6a6a" stroke-width="2.4" stroke-linecap="round"/>
<line x1="1926" y1="885" x2="1925.7" y2="896.7" stroke="#6a6a6a" stroke-width="2.3" stroke-linecap="round"/>
<line x1="1925.7" y1="896.7" x2="1925.4" y2="908.3" stroke="#6a6a6a" stroke-width="2.2" stroke-linecap="round"/>
<line x1="1925.4" y1="908.3" x2="1925" y2="920" stroke="#6a6a6a" stroke-width="2.2" stroke-linecap="round"/>
<line x1="1925" y1="920" x2="1924.8" y2="925.3" stroke="#6a6a6a" stroke-width="2.1" stroke-linecap="round"/>
<line x1="1924.8" y1="925.3" x2="1924.4" y2="930.7" stroke="#6a6a6a" stroke-width="2" stroke-linecap="round"/>
<line x1="1924.4" y1="930.7" x2="1924.1" y2="936" stroke="#6a6a6a" stroke-width="1.9" stroke-linecap="round"/>
<line x1="1924.1" y1="936" x2="1923.6" y2="941.4" stroke="#6a6a6a" stroke-width="1.9" stroke-linecap="round"/>
<line x1="1923.6" y1="941.4" x2="1923.1" y2="946.7" stroke="#6a6a6a" stroke-width="1.8" stroke-linecap="round"/>
<line x1="1923.1" y1="946.7" x2="1922.5" y2="952" stroke="#6a6a6a" stroke-width="1.7" stroke-linecap="round"/>
<line x1="1922.5" y1="952" x2="1922.2" y2="954.4" stroke="#6a6a6a" stroke-width="1.6" stroke-linecap="round"/>
<line x1="1922.2" y1="954.4" x2="1921.7" y2="956.7" stroke="#6a6a6a" stroke-width="1.6" stroke-linecap="round"/>
<line x1="1921.7" y1="956.7" x2="1921.2" y2="959" stroke="#6a6a6a" stroke-width="1.5" stroke-linecap="round"/>
<line x1="1921.2" y1="959" x2="1920.6" y2="961.3" stroke="#6a6a6a" stroke-width="1.4" stroke-linecap="round"/>
<line x1="1920.6" y1="961.3" x2="1920" y2="963.7" stroke="#6a6a6a" stroke-width="1.4" stroke-linecap="round"/>
<line x1="1920" y1="963.7" x2="1919.5" y2="966" stroke="#6a6a6a" stroke-width="1.3" stroke-linecap="round"/>
<line x1="1700" y1="651.5" x2="1710" y2="650.8" stroke="#6a6a6a" stroke-width="1.2" stroke-linecap="round"/>
<line x1="1710" y1="650.8" x2="1720" y2="650" stroke="#6a6a6a" stroke-width="1.7" stroke-linecap="round"/>
<line x1="1720" y1="650" x2="1730" y2="649.3" stroke="#6a6a6a" stroke-width="2.1" stroke-linecap="round"/>
<line x1="1730" y1="649.3" x2="1740" y2="648.5" stroke="#6a6a6a" stroke-width="2.6" stroke-linecap="round"/>
<line x1="1740" y1="648.5" x2="1750" y2="647.8" stroke="#6a6a6a" stroke-width="3.1" stroke-linecap="round"/>
<line x1="1750" y1="647.8" x2="1760" y2="647" stroke="#6a6a6a" stroke-width="3.5" stroke-linecap="round"/>
<line x1="1760" y1="647" x2="1768.7" y2="646.3" stroke="#6a6a6a" stroke-width="4" stroke-linecap="round"/>
<line x1="1768.7" y1="646.3" x2="1777.3" y2="645.5" stroke="#6a6a6a" stroke-width="4.5" stroke-linecap="round"/>
<line x1="1777.3" y1="645.5" x2="1786" y2="644.8" stroke="#6a6a6a" stroke-width="4.9" stroke-linecap="round"/>
<line x1="1786" y1="644.8" x2="1794.7" y2="644" stroke="#6a6a6a" stroke-width="5.4" stroke-linecap="round"/>
<line x1="1794.7" y1="644" x2="1803.3" y2="643.3" stroke="#6a6a6a" stroke-width="5.9" stroke-linecap="round"/>
<line x1="1803.3" y1="643.3" x2="1812" y2="642.5" stroke="#6a6a6a" stroke-width="6.3" stroke-linecap="round"/>
<path d="M1812 642.5 L1975 627" fill="none" stroke="#6a6a6a" stroke-width="6.8" stroke-linecap="round" stroke-linejoin="round" />
<line x1="1975" y1="627" x2="1985.8" y2="625.9" stroke="#6a6a6a" stroke-width="6.8" stroke-linecap="round"/>
<line x1="1985.8" y1="625.9" x2="1996.7" y2="624.8" stroke="#6a6a6a" stroke-width="6.3" stroke-linecap="round"/>
<line x1="1996.7" y1="624.8" x2="2007.5" y2="623.7" stroke="#6a6a6a" stroke-width="5.9" stroke-linecap="round"/>
<line x1="2007.5" y1="623.7" x2="2018.3" y2="622.7" stroke="#6a6a6a" stroke-width="5.4" stroke-linecap="round"/>
<line x1="2018.3" y1="622.7" x2="2029.2" y2="621.6" stroke="#6a6a6a" stroke-width="5" stroke-linecap="round"/>
<line x1="2029.2" y1="621.6" x2="2040" y2="620.5" stroke="#6a6a6a" stroke-width="4.5" stroke-linecap="round"/>
<line x1="2040" y1="620.5" x2="2049.5" y2="619.6" stroke="#6a6a6a" stroke-width="4" stroke-linecap="round"/>
<line x1="2049.5" y1="619.6" x2="2059" y2="618.7" stroke="#6a6a6a" stroke-width="3.6" stroke-linecap="round"/>
<line x1="2059" y1="618.7" x2="2068.5" y2="617.7" stroke="#6a6a6a" stroke-width="3.1" stroke-linecap="round"/>
<line x1="2068.5" y1="617.7" x2="2078" y2="616.8" stroke="#6a6a6a" stroke-width="2.7" stroke-linecap="round"/>
<line x1="2078" y1="616.8" x2="2087.5" y2="615.9" stroke="#6a6a6a" stroke-width="2.2" stroke-linecap="round"/>
<line x1="2087.5" y1="615.9" x2="2097" y2="615" stroke="#6a6a6a" stroke-width="1.8" stroke-linecap="round"/>
<polyline points="498,655 498.5,653.8" fill="none" stroke="#6a6a6a" stroke-width="3" stroke-linecap="round" stroke-linejoin="round"/>
<polyline points="498.5,653.8 499,652.7 499.5,651.5 500,650.3 500.5,649.1 501,648 501.8,646.4 502.5,644.8 503.3,643.1 504.2,641.6" fill="none" stroke="#6a6a6a" stroke-width="3.5" stroke-linecap="round" stroke-linejoin="round"/>
<polyline points="504.2,641.6 505,640 506,638.5 507.2,636.8 508.4,635.1 509.7,633.5 511.1,631.9 512.5,630.4 514,629 515.8,627.4" fill="none" stroke="#6a6a6a" stroke-width="4" stroke-linecap="round" stroke-linejoin="round"/>
<polyline points="515.8,627.4 517.6,625.9 519.5,624.4 521.4,623 523.4,621.7 525.5,620.5 528.6,618.8 531.8,617.2 535,615.7 538.3,614.3" fill="none" stroke="#6a6a6a" stroke-width="4.5" stroke-linecap="round" stroke-linejoin="round"/>
<polyline points="538.3,614.3 541.6,613.1 545,612 549.1,610.9 553.2,610 557.3,609.2 561.5,608.6 565.7,608.2 569.9,608 574.3,608.1 578.6,608.4" fill="none" stroke="#6a6a6a" stroke-width="5" stroke-linecap="round" stroke-linejoin="round"/>
<polyline points="578.6,608.4 583,609 587.4,609.7 591.7,610.5 596,611.5 600.5,612.7 605,614 609.5,615.4 613.9,617 618.3,618.7 622.6,620.5 626.5,622.3 630.3,624.2 634.1,626.3 637.8,628.4" fill="none" stroke="#6a6a6a" stroke-width="5.5" stroke-linecap="round" stroke-linejoin="round"/>
<polyline points="637.8,628.4 641.4,630.7 645,633 648.4,635.3 651.7,637.7 655,640.2 658.1,642.8 661.2,645.5 664.2,648.3 666.4,650.5 668.5,652.9 670.4,655.3 672.3,657.9 674.2,660.4 676,663 677.9,665.8 679.7,668.6" fill="none" stroke="#6a6a6a" stroke-width="6" stroke-linecap="round" stroke-linejoin="round"/>
<polyline points="679.7,668.6 681.4,671.5 683.1,674.4 684.8,677.3 686.4,680.2 687.6,682.4 688.8,684.7 689.9,687 691,689.3 692,691.6 693,694 693.9,696.3 694.8,698.6 695.6,700.9 696.3,703.2" fill="none" stroke="#6a6a6a" stroke-width="6.5" stroke-linecap="round" stroke-linejoin="round"/>
<polyline points="696.3,703.2 697,705.5 697.5,707.9 698.2,711.3 698.8,714.8 699.3,718.3 699.7,721.7 700,725.2" fill="none" stroke="#6a6a6a" stroke-width="7" stroke-linecap="round" stroke-linejoin="round"/>
<polyline points="700,725.2 700.2,728.7 700.2,731.1 700,733.5 699.8,735.9 699.4,738.3 699,740.6 698.5,743 698,745.3 697.5,747.6 697,749.8 696.3,752.1 695.6,754.3 694.7,756.4 693.7,758.4 692.6,760.3 691.5,762.2 690.2,764 688.9,765.8 687.5,767.5 686.1,769.2 684.6,771 683,772.6 681.4,774.2 679.7,775.8 678,777.2 676,778.7 673.9,780.1 671.7,781.4 669.5,782.7 667.3,783.9" fill="none" stroke="#6a6a6a" stroke-width="6.5" stroke-linecap="round" stroke-linejoin="round"/>
<polyline points="667.3,783.9 665,785 662.6,786.2 660.2,787.3 657.8,788.3 655.3,789.3 652.8,790.2 650.3,791.1 648,791.9 645.6,792.5 643.2,793.2 640.8,793.8" fill="none" stroke="#6a6a6a" stroke-width="6" stroke-linecap="round" stroke-linejoin="round"/>
<polyline points="640.8,793.8 638.4,794.3 636,794.8 633.8,795.2 631.6,795.6 629.3,796 627.1,796.3 624.8,796.5 622.6,796.7 620.2,796.8 617.7,796.8" fill="none" stroke="#6a6a6a" stroke-width="5.5" stroke-linecap="round" stroke-linejoin="round"/>
<polyline points="617.7,796.8 615.3,796.8 612.9,796.7 610.4,796.5 608,796.3 605.8,796 603.6,795.7 601.4,795.4 599.2,794.9 597,794.4 594.8,793.9 592.3,793.2" fill="none" stroke="#6a6a6a" stroke-width="5" stroke-linecap="round" stroke-linejoin="round"/>
<polyline points="592.3,793.2 589.8,792.5 587.3,791.7 584.9,790.8 582.4,789.9 580,789 577.8,788.1" fill="none" stroke="#6a6a6a" stroke-width="4.5" stroke-linecap="round" stroke-linejoin="round"/>
<polyline points="577.8,788.1 575.6,787.1 573.5,786.1 571.3,785" fill="none" stroke="#6a6a6a" stroke-width="4" stroke-linecap="round" stroke-linejoin="round"/>
<polyline points="571.3,785 569.2,783.9 567.1,782.8 564.7,781.5" fill="none" stroke="#6a6a6a" stroke-width="3.5" stroke-linecap="round" stroke-linejoin="round"/>
<polyline points="564.7,781.5 562.3,780.1 560,778.8 557.6,777.4" fill="none" stroke="#6a6a6a" stroke-width="3" stroke-linecap="round" stroke-linejoin="round"/>
<polyline points="557.6,777.4 555.3,775.9 553,774.5 550.9,773.2" fill="none" stroke="#6a6a6a" stroke-width="2.5" stroke-linecap="round" stroke-linejoin="round"/>
<polyline points="550.9,773.2 548.9,771.8 546.8,770.4 544.8,768.9" fill="none" stroke="#6a6a6a" stroke-width="2" stroke-linecap="round" stroke-linejoin="round"/>
<polyline points="544.8,768.9 542.7,767.5 540.7,766.1" fill="none" stroke="#6a6a6a" stroke-width="1.5" stroke-linecap="round" stroke-linejoin="round"/>
<path d="M2249.8 541 C2250.5 542.5 2251.2 544 2251.9 545.6 C2252.5 547.1 2253 548.7 2253.5 550.3 C2254 551.9 2254.4 553.5 2254.7 555.1 C2255.1 556.7 2255.4 558.3 2255.6 559.9 C2255.8 561.5 2255.9 563.2 2256 564.8 C2256 566.4 2256 568.1 2255.9 569.7 C2255.9 571.3 2255.7 573 2255.5 574.6 C2255.3 576.2 2255 577.8 2254.6 579.5 C2254.3 581.1 2253.8 582.7 2253.3 584.2 C2252.8 585.8 2252.3 587.4 2251.7 588.9 C2251 590.5 2250.3 592 2249.6 593.5 C2248.8 595 2248 596.5 2247.1 598 C2246.2 599.5 2245.2 600.9 2244.2 602.3 C2243.2 603.7 2242.1 605.1 2241 606.4 C2239.9 607.8 2238.7 609.1 2237.4 610.4 C2236.2 611.6 2234.9 612.9 2233.5 614.1 C2232.2 615.3 2230.8 616.5 2229.3 617.6 C2227.9 618.7 2226.3 619.8 2224.8 620.8 C2223.3 621.8 2221.7 622.8 2220 623.8 C2218.4 624.7 2216.7 625.6 2215 626.4 C2213.3 627.3 2211.6 628.1 2209.8 628.8 C2208 629.6 2206.2 630.3 2204.4 630.9 C2202.5 631.6 2200.7 632.2 2198.8 632.7 C2196.9 633.2 2195 633.7 2193.1 634.1 C2191.1 634.5 2189.2 634.9 2187.2 635.2 C2185.3 635.5 2183.3 635.8 2181.3 636 C2179.3 636.2 2177.3 636.3 2175.3 636.4 C2173.3 636.5 2171.3 636.5 2169.3 636.5 C2167.3 636.5 2165.3 636.4 2163.4 636.2 C2161.4 636.1 2159.4 635.9 2157.4 635.6 C2155.4 635.3 2153.5 635 2151.5 634.7 C2149.6 634.3 2147.7 633.8 2145.8 633.4 C2143.9 632.9 2142 632.3 2140.1 631.7 C2138.2 631.2 2136.4 630.5 2134.6 629.8 C2132.8 629.1 2131 628.4 2129.3 627.5 C2127.5 626.8 2125.8 625.9 2124.2 625 C2122.5 624.1 2120.9 623.2 2119.3 622.2 C2117.7 621.2 2116.2 620.1 2114.7 619 C2113.2 618 2111.7 616.8 2110.3 615.7 C2108.9 614.5 2107.6 613.3 2106.3 612 C2105 610.8 2103.7 609.5 2102.5 608.2 C2101.4 606.9 2100.2 605.5 2099.2 604.2 C2098.1 602.8 2097.1 601.4 2096.1 599.9 C2095.2 598.5 2094.3 597 2093.5 595.5 C2092.7 594.1 2091.9 592.5 2091.2 591 C2090.5 589.5 2089.9 587.9 2089.4 586.3 C2088.8 584.8 2088.3 583.2 2087.9 581.6 C2087.5 580 2087.1 578.4 2086.8 576.8 C2086.6 575.2 2086.4 573.5 2086.2 571.9 C2086.1 570.3 2086.1 568.6 2086 567" fill="none" stroke="#6a6a6a" stroke-width="6" stroke-linecap="round" stroke-linejoin="round" />
<line x1="2086" y1="567" x2="2086" y2="566.2" stroke="#6a6a6a" stroke-width="6" stroke-linecap="round"/>
<line x1="2086" y1="566.2" x2="2086.1" y2="565.4" stroke="#6a6a6a" stroke-width="6" stroke-linecap="round"/>
<line x1="2086.1" y1="565.4" x2="2086.1" y2="564.6" stroke="#6a6a6a" stroke-width="5.9" stroke-linecap="round"/>
<line x1="2086.1" y1="564.6" x2="2086.1" y2="563.8" stroke="#6a6a6a" stroke-width="5.9" stroke-linecap="round"/>
<line x1="2086.1" y1="563.8" x2="2086.1" y2="563.1" stroke="#6a6a6a" stroke-width="5.8" stroke-linecap="round"/>
<line x1="2086.1" y1="563.1" x2="2086.2" y2="562.3" stroke="#6a6a6a" stroke-width="5.8" stroke-linecap="round"/>
<line x1="2086.2" y1="562.3" x2="2086.3" y2="561.5" stroke="#6a6a6a" stroke-width="5.8" stroke-linecap="round"/>
<line x1="2086.3" y1="561.5" x2="2086.4" y2="560.7" stroke="#6a6a6a" stroke-width="5.7" stroke-linecap="round"/>
<line x1="2086.4" y1="560.7" x2="2086.4" y2="559.9" stroke="#6a6a6a" stroke-width="5.7" stroke-linecap="round"/>
<line x1="2086.4" y1="559.9" x2="2086.5" y2="559.1" stroke="#6a6a6a" stroke-width="5.7" stroke-linecap="round"/>
<line x1="2086.5" y1="559.1" x2="2086.7" y2="558.3" stroke="#6a6a6a" stroke-width="5.6" stroke-linecap="round"/>
<line x1="2086.7" y1="558.3" x2="2086.8" y2="557.6" stroke="#6a6a6a" stroke-width="5.6" stroke-linecap="round"/>
<line x1="2086.8" y1="557.6" x2="2086.9" y2="556.8" stroke="#6a6a6a" stroke-width="5.5" stroke-linecap="round"/>
<line x1="2086.9" y1="556.8" x2="2087.1" y2="556" stroke="#6a6a6a" stroke-width="5.5" stroke-linecap="round"/>
<line x1="2087.1" y1="556" x2="2087.2" y2="555.2" stroke="#6a6a6a" stroke-width="5.5" stroke-linecap="round"/>
<line x1="2087.2" y1="555.2" x2="2087.4" y2="554.5" stroke="#6a6a6a" stroke-width="5.4" stroke-linecap="round"/>
<line x1="2087.4" y1="554.5" x2="2087.6" y2="553.7" stroke="#6a6a6a" stroke-width="5.4" stroke-linecap="round"/>
<line x1="2087.6" y1="553.7" x2="2087.8" y2="552.9" stroke="#6a6a6a" stroke-width="5.4" stroke-linecap="round"/>
<line x1="2087.8" y1="552.9" x2="2088" y2="552.1" stroke="#6a6a6a" stroke-width="5.3" stroke-linecap="round"/>
<line x1="2088" y1="552.1" x2="2088.2" y2="551.4" stroke="#6a6a6a" stroke-width="5.3" stroke-linecap="round"/>
<line x1="2088.2" y1="551.4" x2="2088.4" y2="550.6" stroke="#6a6a6a" stroke-width="5.2" stroke-linecap="round"/>
<line x1="2088.4" y1="550.6" x2="2088.6" y2="549.8" stroke="#6a6a6a" stroke-width="5.2" stroke-linecap="round"/>
<line x1="2088.6" y1="549.8" x2="2088.9" y2="549.1" stroke="#6a6a6a" stroke-width="5.2" stroke-linecap="round"/>
<line x1="2088.9" y1="549.1" x2="2089.1" y2="548.3" stroke="#6a6a6a" stroke-width="5.1" stroke-linecap="round"/>
<line x1="2089.1" y1="548.3" x2="2089.4" y2="547.5" stroke="#6a6a6a" stroke-width="5.1" stroke-linecap="round"/>
<line x1="2089.4" y1="547.5" x2="2089.7" y2="546.8" stroke="#6a6a6a" stroke-width="5.1" stroke-linecap="round"/>
<line x1="2089.7" y1="546.8" x2="2090" y2="546" stroke="#6a6a6a" stroke-width="5" stroke-linecap="round"/>
<line x1="2090" y1="546" x2="2090.3" y2="545.3" stroke="#6a6a6a" stroke-width="5" stroke-linecap="round"/>
<line x1="2090.3" y1="545.3" x2="2090.6" y2="544.5" stroke="#6a6a6a" stroke-width="5" stroke-linecap="round"/>
<line x1="2090.6" y1="544.5" x2="2090.9" y2="543.8" stroke="#6a6a6a" stroke-width="4.9" stroke-linecap="round"/>
<line x1="2090.9" y1="543.8" x2="2091.2" y2="543.1" stroke="#6a6a6a" stroke-width="4.9" stroke-linecap="round"/>
<line x1="2091.2" y1="543.1" x2="2091.5" y2="542.3" stroke="#6a6a6a" stroke-width="4.8" stroke-linecap="round"/>
<line x1="2091.5" y1="542.3" x2="2091.9" y2="541.6" stroke="#6a6a6a" stroke-width="4.8" stroke-linecap="round"/>
<line x1="2091.9" y1="541.6" x2="2092.2" y2="540.8" stroke="#6a6a6a" stroke-width="4.8" stroke-linecap="round"/>
<line x1="2092.2" y1="540.8" x2="2092.6" y2="540.1" stroke="#6a6a6a" stroke-width="4.7" stroke-linecap="round"/>
<line x1="2092.6" y1="540.1" x2="2093" y2="539.4" stroke="#6a6a6a" stroke-width="4.7" stroke-linecap="round"/>
<line x1="2093" y1="539.4" x2="2093.4" y2="538.7" stroke="#6a6a6a" stroke-width="4.7" stroke-linecap="round"/>
<line x1="2093.4" y1="538.7" x2="2093.8" y2="538" stroke="#6a6a6a" stroke-width="4.6" stroke-linecap="round"/>
<line x1="2093.8" y1="538" x2="2094.2" y2="537.2" stroke="#6a6a6a" stroke-width="4.6" stroke-linecap="round"/>
<line x1="2094.2" y1="537.2" x2="2094.6" y2="536.5" stroke="#6a6a6a" stroke-width="4.5" stroke-linecap="round"/>
<line x1="2094.6" y1="536.5" x2="2095" y2="535.8" stroke="#6a6a6a" stroke-width="4.5" stroke-linecap="round"/>
<line x1="2095" y1="535.8" x2="2095.5" y2="535.1" stroke="#6a6a6a" stroke-width="4.5" stroke-linecap="round"/>
<line x1="2095.5" y1="535.1" x2="2095.9" y2="534.4" stroke="#6a6a6a" stroke-width="4.4" stroke-linecap="round"/>
<line x1="2095.9" y1="534.4" x2="2096.4" y2="533.7" stroke="#6a6a6a" stroke-width="4.4" stroke-linecap="round"/>
<line x1="2096.4" y1="533.7" x2="2096.8" y2="533" stroke="#6a6a6a" stroke-width="4.3" stroke-linecap="round"/>
<line x1="2096.8" y1="533" x2="2097.3" y2="532.3" stroke="#6a6a6a" stroke-width="4.3" stroke-linecap="round"/>
<line x1="2097.3" y1="532.3" x2="2097.8" y2="531.7" stroke="#6a6a6a" stroke-width="4.3" stroke-linecap="round"/>
<line x1="2097.8" y1="531.7" x2="2098.3" y2="531" stroke="#6a6a6a" stroke-width="4.2" stroke-linecap="round"/>
<line x1="2098.3" y1="531" x2="2098.8" y2="530.3" stroke="#6a6a6a" stroke-width="4.2" stroke-linecap="round"/>
<line x1="2098.8" y1="530.3" x2="2099.3" y2="529.7" stroke="#6a6a6a" stroke-width="4.2" stroke-linecap="round"/>
<line x1="2099.3" y1="529.7" x2="2099.8" y2="529" stroke="#6a6a6a" stroke-width="4.1" stroke-linecap="round"/>
<line x1="2099.8" y1="529" x2="2100.4" y2="528.3" stroke="#6a6a6a" stroke-width="4.1" stroke-linecap="round"/>
<line x1="2100.4" y1="528.3" x2="2100.9" y2="527.7" stroke="#6a6a6a" stroke-width="4" stroke-linecap="round"/>
<line x1="2100.9" y1="527.7" x2="2101.5" y2="527" stroke="#6a6a6a" stroke-width="4" stroke-linecap="round"/>
<line x1="2101.5" y1="527" x2="2102" y2="526.4" stroke="#6a6a6a" stroke-width="4" stroke-linecap="round"/>
<line x1="2102" y1="526.4" x2="2102.6" y2="525.8" stroke="#6a6a6a" stroke-width="3.9" stroke-linecap="round"/>
<line x1="2102.6" y1="525.8" x2="2103.2" y2="525.1" stroke="#6a6a6a" stroke-width="3.9" stroke-linecap="round"/>
<line x1="2103.2" y1="525.1" x2="2103.8" y2="524.5" stroke="#6a6a6a" stroke-width="3.9" stroke-linecap="round"/>
<line x1="2103.8" y1="524.5" x2="2104.3" y2="523.9" stroke="#6a6a6a" stroke-width="3.8" stroke-linecap="round"/>
<line x1="2104.3" y1="523.9" x2="2104.9" y2="523.3" stroke="#6a6a6a" stroke-width="3.8" stroke-linecap="round"/>
<line x1="2104.9" y1="523.3" x2="2105.6" y2="522.6" stroke="#6a6a6a" stroke-width="3.8" stroke-linecap="round"/>
<line x1="2105.6" y1="522.6" x2="2106.2" y2="522" stroke="#6a6a6a" stroke-width="3.7" stroke-linecap="round"/>
<line x1="2106.2" y1="522" x2="2106.8" y2="521.4" stroke="#6a6a6a" stroke-width="3.7" stroke-linecap="round"/>
<line x1="2106.8" y1="521.4" x2="2107.4" y2="520.9" stroke="#6a6a6a" stroke-width="3.6" stroke-linecap="round"/>
<line x1="2107.4" y1="520.9" x2="2108.1" y2="520.3" stroke="#6a6a6a" stroke-width="3.6" stroke-linecap="round"/>
<line x1="2108.1" y1="520.3" x2="2108.7" y2="519.7" stroke="#6a6a6a" stroke-width="3.6" stroke-linecap="round"/>
<line x1="2108.7" y1="519.7" x2="2109.4" y2="519.1" stroke="#6a6a6a" stroke-width="3.5" stroke-linecap="round"/>
<line x1="2109.4" y1="519.1" x2="2110.1" y2="518.5" stroke="#6a6a6a" stroke-width="3.5" stroke-linecap="round"/>
<line x1="2110.1" y1="518.5" x2="2110.7" y2="518" stroke="#6a6a6a" stroke-width="3.5" stroke-linecap="round"/>
<line x1="2110.7" y1="518" x2="2111.4" y2="517.4" stroke="#6a6a6a" stroke-width="3.4" stroke-linecap="round"/>
<line x1="2111.4" y1="517.4" x2="2112.1" y2="516.9" stroke="#6a6a6a" stroke-width="3.4" stroke-linecap="round"/>
<line x1="2112.1" y1="516.9" x2="2112.8" y2="516.3" stroke="#6a6a6a" stroke-width="3.3" stroke-linecap="round"/>
<line x1="2112.8" y1="516.3" x2="2113.5" y2="515.8" stroke="#6a6a6a" stroke-width="3.3" stroke-linecap="round"/>
<line x1="2113.5" y1="515.8" x2="2114.2" y2="515.3" stroke="#6a6a6a" stroke-width="3.3" stroke-linecap="round"/>
<line x1="2114.2" y1="515.3" x2="2115" y2="514.7" stroke="#6a6a6a" stroke-width="3.2" stroke-linecap="round"/>
<line x1="2115" y1="514.7" x2="2115.7" y2="514.2" stroke="#6a6a6a" stroke-width="3.2" stroke-linecap="round"/>
<line x1="2115.7" y1="514.2" x2="2116.4" y2="513.7" stroke="#6a6a6a" stroke-width="3.2" stroke-linecap="round"/>
<line x1="2116.4" y1="513.7" x2="2117.2" y2="513.2" stroke="#6a6a6a" stroke-width="3.1" stroke-linecap="round"/>
<line x1="2117.2" y1="513.2" x2="2117.9" y2="512.7" stroke="#6a6a6a" stroke-width="3.1" stroke-linecap="round"/>
<line x1="2117.9" y1="512.7" x2="2118.7" y2="512.2" stroke="#6a6a6a" stroke-width="3" stroke-linecap="round"/>
<line x1="2118.7" y1="512.2" x2="2119.4" y2="511.7" stroke="#6a6a6a" stroke-width="3" stroke-linecap="round"/>
<line x1="2119.4" y1="511.7" x2="2120.2" y2="511.3" stroke="#6a6a6a" stroke-width="3" stroke-linecap="round"/>
<line x1="2120.2" y1="511.3" x2="2121" y2="510.8" stroke="#6a6a6a" stroke-width="2.9" stroke-linecap="round"/>
<line x1="2121" y1="510.8" x2="2121.8" y2="510.3" stroke="#6a6a6a" stroke-width="2.9" stroke-linecap="round"/>
<line x1="2121.8" y1="510.3" x2="2122.6" y2="509.9" stroke="#6a6a6a" stroke-width="2.9" stroke-linecap="round"/>
<line x1="2122.6" y1="509.9" x2="2123.4" y2="509.4" stroke="#6a6a6a" stroke-width="2.8" stroke-linecap="round"/>
<line x1="2123.4" y1="509.4" x2="2124.2" y2="509" stroke="#6a6a6a" stroke-width="2.8" stroke-linecap="round"/>
<line x1="2124.2" y1="509" x2="2125" y2="508.6" stroke="#6a6a6a" stroke-width="2.7" stroke-linecap="round"/>
<line x1="2125" y1="508.6" x2="2125.8" y2="508.2" stroke="#6a6a6a" stroke-width="2.7" stroke-linecap="round"/>
<line x1="2125.8" y1="508.2" x2="2126.6" y2="507.7" stroke="#6a6a6a" stroke-width="2.7" stroke-linecap="round"/>
<line x1="2126.6" y1="507.7" x2="2127.4" y2="507.3" stroke="#6a6a6a" stroke-width="2.6" stroke-linecap="round"/>
<line x1="2127.4" y1="507.3" x2="2128.2" y2="506.9" stroke="#6a6a6a" stroke-width="2.6" stroke-linecap="round"/>
<line x1="2128.2" y1="506.9" x2="2129.1" y2="506.5" stroke="#6a6a6a" stroke-width="2.5" stroke-linecap="round"/>
<line x1="2129.1" y1="506.5" x2="2129.9" y2="506.2" stroke="#6a6a6a" stroke-width="2.5" stroke-linecap="round"/>
<line x1="2129.9" y1="506.2" x2="2130.8" y2="505.8" stroke="#6a6a6a" stroke-width="2.5" stroke-linecap="round"/>
<line x1="2130.8" y1="505.8" x2="2131.6" y2="505.4" stroke="#6a6a6a" stroke-width="2.4" stroke-linecap="round"/>
<line x1="2131.6" y1="505.4" x2="2132.5" y2="505" stroke="#6a6a6a" stroke-width="2.4" stroke-linecap="round"/>
<line x1="2132.5" y1="505" x2="2133.3" y2="504.7" stroke="#6a6a6a" stroke-width="2.4" stroke-linecap="round"/>
<line x1="2133.3" y1="504.7" x2="2134.2" y2="504.3" stroke="#6a6a6a" stroke-width="2.3" stroke-linecap="round"/>
<line x1="2134.2" y1="504.3" x2="2135.1" y2="504" stroke="#6a6a6a" stroke-width="2.3" stroke-linecap="round"/>
<line x1="2135.1" y1="504" x2="2136" y2="503.7" stroke="#6a6a6a" stroke-width="2.2" stroke-linecap="round"/>
<line x1="2136" y1="503.7" x2="2136.8" y2="503.4" stroke="#6a6a6a" stroke-width="2.2" stroke-linecap="round"/>
<line x1="2136.8" y1="503.4" x2="2137.7" y2="503" stroke="#6a6a6a" stroke-width="2.2" stroke-linecap="round"/>
<line x1="2137.7" y1="503" x2="2138.6" y2="502.7" stroke="#6a6a6a" stroke-width="2.1" stroke-linecap="round"/>
<line x1="2138.6" y1="502.7" x2="2139.5" y2="502.4" stroke="#6a6a6a" stroke-width="2.1" stroke-linecap="round"/>
<line x1="2139.5" y1="502.4" x2="2140.4" y2="502.2" stroke="#6a6a6a" stroke-width="2.1" stroke-linecap="round"/>
<line x1="2140.4" y1="502.2" x2="2141.3" y2="501.9" stroke="#6a6a6a" stroke-width="2" stroke-linecap="round"/>
<line x1="2141.3" y1="501.9" x2="2142.2" y2="501.6" stroke="#6a6a6a" stroke-width="2" stroke-linecap="round"/>
<line x1="2142.2" y1="501.6" x2="2143.1" y2="501.3" stroke="#6a6a6a" stroke-width="2" stroke-linecap="round"/>
<line x1="2143.1" y1="501.3" x2="2144" y2="501.1" stroke="#6a6a6a" stroke-width="1.9" stroke-linecap="round"/>
<line x1="2144" y1="501.1" x2="2144.9" y2="500.8" stroke="#6a6a6a" stroke-width="1.9" stroke-linecap="round"/>
<line x1="2144.9" y1="500.8" x2="2145.9" y2="500.6" stroke="#6a6a6a" stroke-width="1.8" stroke-linecap="round"/>
<line x1="2145.9" y1="500.6" x2="2146.8" y2="500.4" stroke="#6a6a6a" stroke-width="1.8" stroke-linecap="round"/>
<line x1="2146.8" y1="500.4" x2="2147.7" y2="500.2" stroke="#6a6a6a" stroke-width="1.8" stroke-linecap="round"/>
<line x1="2147.7" y1="500.2" x2="2148.6" y2="500" stroke="#6a6a6a" stroke-width="1.7" stroke-linecap="round"/>
<line x1="2148.6" y1="500" x2="2149.6" y2="499.8" stroke="#6a6a6a" stroke-width="1.7" stroke-linecap="round"/>
<line x1="2149.6" y1="499.8" x2="2150.5" y2="499.6" stroke="#6a6a6a" stroke-width="1.7" stroke-linecap="round"/>
<line x1="2150.5" y1="499.6" x2="2151.5" y2="499.4" stroke="#6a6a6a" stroke-width="1.6" stroke-linecap="round"/>
<line x1="2151.5" y1="499.4" x2="2152.4" y2="499.2" stroke="#6a6a6a" stroke-width="1.6" stroke-linecap="round"/>
<line x1="2152.4" y1="499.2" x2="2153.3" y2="499" stroke="#6a6a6a" stroke-width="1.5" stroke-linecap="round"/>
<path d="M328 664 C334.3 681.7 340.7 699.3 347 717 C350.7 727.3 355.1 737.5 358 748 C360.4 756.8 361.9 765.9 363 775 C364 783.3 364.3 791.7 364.5 800 C365 824.3 364.7 848.7 365 873 C365.4 913 366.2 953 366.5 993 C366.7 1032.7 366.3 1072.3 366.5 1112 C366.6 1134.7 367.1 1157.3 367.5 1180 C367.6 1184 367.8 1188 368 1192" fill="none" stroke="#4a4a4a" stroke-width="1.3" stroke-linecap="round" stroke-linejoin="round" />
<path d="M484 562 C486.7 564.7 489.5 567.2 492 570 C494.2 572.5 496.6 575 498 578 C500.2 582.7 502 587.9 503 593 C504.2 599.5 504.4 606.3 504.6 613 C504.8 618.7 504.3 624.3 504 630 C503.8 634 503.3 638 503 642" fill="none" stroke="#4a4a4a" stroke-width="1.3" stroke-linecap="round" stroke-linejoin="round" />
<path d="M1129.3 528.6 C1135.1 532.3 1142.4 534.6 1146.6 539.6 C1150.8 544.5 1152.9 551.9 1154.4 558.4 C1156.8 568.6 1157.4 579.2 1158.3 589.7 C1159.2 600.1 1159.8 610.6 1160 621 C1160.1 628.9 1159.9 636.8 1159.2 644.6 C1158.5 652.4 1157.8 660.4 1156 668 C1154.6 673.9 1151.8 679.5 1149.7 685.3" fill="none" stroke="#4a4a4a" stroke-width="1.3" stroke-linecap="round" stroke-linejoin="round" />
<path d="M1662 489 C1671.3 490 1681 489.8 1690 492 C1697 493.8 1704.3 496.7 1710 501 C1715 504.7 1719.9 510.1 1722 516 C1726.9 529.8 1729.2 545.2 1731 560 C1732.6 573.2 1732.8 586.8 1732 600 C1731.4 609.4 1729.8 619.1 1727 628 C1725.2 633.8 1722 639.6 1718 644 C1714.4 648 1708.7 650 1704 653" fill="none" stroke="#4a4a4a" stroke-width="1.3" stroke-linecap="round" stroke-linejoin="round" />
<path d="M1675 489 C1684 490.7 1693.6 490.9 1702 494 C1707.9 496.2 1713.8 500.3 1718 505 C1722.1 509.6 1725.4 515.9 1727 522 C1731.1 537.5 1733.5 553.9 1735 570 C1736.2 583.2 1736 596.8 1735 610 C1734.4 618.1 1730 626.2 1730 634 C1730 638.2 1731.6 644.5 1735 646 C1741.6 648.9 1751.7 646.7 1760 647" fill="none" stroke="#4a4a4a" stroke-width="1.3" stroke-linecap="round" stroke-linejoin="round" />
<path d="M539.5 881 C543 891.3 546 901.9 550 912 C554.5 923.2 558.9 934.7 565 945 C568.9 951.7 574.5 957.5 580 963 C586.2 969.2 592.8 975.1 600 980 C606.8 984.7 614.3 988.9 622 992 C631 995.6 640.5 998.2 650 1000 C666.5 1003.2 683.3 1005.3 700 1007 C716.6 1008.7 733.3 1009.7 750 1010 C783.3 1010.7 816.7 1011.7 850 1010 C900.1 1007.5 950.1 1002.5 1000 997.5 C1033.4 994.2 1066.7 989.6 1100 985 C1133.4 980.4 1166.8 975.9 1200 970 C1223.5 965.9 1246.8 960.4 1270 955 C1290.1 950.4 1310.5 946.4 1330 940 C1342.8 935.8 1355.3 929.7 1367 923 C1375.3 918.3 1382.5 911.9 1390 906 C1393.9 902.9 1397.3 899.3 1401 896" fill="none" stroke="#4a4a4a" stroke-width="1.3" stroke-linecap="round" stroke-linejoin="round" />
<line x1="1137" y1="710" x2="1139.2" y2="709.4" stroke="#6a6a6a" stroke-width="1" stroke-linecap="round"/>
<line x1="1139.2" y1="709.4" x2="1141.3" y2="708.7" stroke="#6a6a6a" stroke-width="1.2" stroke-linecap="round"/>
<line x1="1141.3" y1="708.7" x2="1143.5" y2="708.1" stroke="#6a6a6a" stroke-width="1.4" stroke-linecap="round"/>
<line x1="1143.5" y1="708.1" x2="1145.6" y2="707.5" stroke="#6a6a6a" stroke-width="1.7" stroke-linecap="round"/>
<line x1="1145.6" y1="707.5" x2="1147.8" y2="706.9" stroke="#6a6a6a" stroke-width="1.9" stroke-linecap="round"/>
<line x1="1147.8" y1="706.9" x2="1150" y2="706.5" stroke="#6a6a6a" stroke-width="2.1" stroke-linecap="round"/>
<line x1="1150" y1="706.5" x2="1154.1" y2="705.8" stroke="#6a6a6a" stroke-width="2.3" stroke-linecap="round"/>
<line x1="1154.1" y1="705.8" x2="1158.3" y2="705.3" stroke="#6a6a6a" stroke-width="2.6" stroke-linecap="round"/>
<line x1="1158.3" y1="705.3" x2="1162.5" y2="704.8" stroke="#6a6a6a" stroke-width="2.8" stroke-linecap="round"/>
<line x1="1162.5" y1="704.8" x2="1166.6" y2="704.3" stroke="#6a6a6a" stroke-width="3" stroke-linecap="round"/>
<line x1="1166.6" y1="704.3" x2="1170.8" y2="703.9" stroke="#6a6a6a" stroke-width="3.2" stroke-linecap="round"/>
<line x1="1170.8" y1="703.9" x2="1175" y2="703.5" stroke="#6a6a6a" stroke-width="3.4" stroke-linecap="round"/>
<line x1="1175" y1="703.5" x2="1192" y2="702" stroke="#6a6a6a" stroke-width="3.7" stroke-linecap="round"/>
<line x1="1192" y1="702" x2="1209" y2="700.6" stroke="#6a6a6a" stroke-width="3.9" stroke-linecap="round"/>
<line x1="1209" y1="700.6" x2="1226" y2="699.2" stroke="#6a6a6a" stroke-width="4.1" stroke-linecap="round"/>
<line x1="1226" y1="699.2" x2="1243" y2="697.8" stroke="#6a6a6a" stroke-width="4.3" stroke-linecap="round"/>
<line x1="1243" y1="697.8" x2="1260" y2="696.4" stroke="#6a6a6a" stroke-width="4.6" stroke-linecap="round"/>
<line x1="1260" y1="696.4" x2="1277" y2="695" stroke="#6a6a6a" stroke-width="4.8" stroke-linecap="round"/>
<path d="M1917 745.5 C1928 749.7 1939 753.9 1950 758 C1961 762.1 1971.8 766.5 1983 770 C1998.5 774.8 2014.2 779.1 2030 783 C2047.6 787.4 2065.2 791.9 2083 795 C2098.5 797.7 2114.3 799.2 2130 800.5 C2147.6 802 2165.3 803 2183 803.5 C2206.7 804.2 2230.3 804.6 2254 804 C2279.3 803.4 2304.7 801.8 2330 800 C2357 798.1 2384.1 796 2411 793 C2430.7 790.8 2450.4 787.6 2470 784.5 C2483.7 782.3 2497.5 780.2 2511 777 C2520.8 774.7 2530.5 771.4 2540 768 C2546.2 765.8 2552.4 763.3 2558 760 C2561.7 757.8 2564.7 754.3 2568 751.5" fill="none" stroke="#4a4a4a" stroke-width="1.3" stroke-linecap="round" stroke-linejoin="round" />
<path d="M2256 560 C2267.3 562.3 2278.7 564.6 2290 567 C2302.7 569.6 2315.6 571.6 2328 575 C2331.6 576 2335.3 577.6 2338 580 C2341 582.6 2343.6 586.3 2345 590 C2347 595.3 2347.5 601.3 2348 607 C2348.9 617.9 2348.6 629 2349 640 C2349.3 649.3 2349.7 658.7 2350 668" fill="none" stroke="#4a4a4a" stroke-width="1.3" stroke-linecap="round" stroke-linejoin="round" />
<path d="M2200 636 C2205 636.7 2210.1 636.9 2215 638 C2286.1 653.9 2357 670.7 2428 687" fill="none" stroke="#4a4a4a" stroke-width="1.3" stroke-linecap="round" stroke-linejoin="round" />
<path d="M518 645 C513.7 648.3 508.8 651.2 505 655 C502.5 657.5 501 661 499 664" fill="none" stroke="#6a6a6a" stroke-width="1.6" stroke-linecap="round" stroke-linejoin="round" />
<path d="M525 672 C519 678 512.1 683.3 507 690 C502.4 696 499.7 703.3 496 710" fill="none" stroke="#6a6a6a" stroke-width="1.6" stroke-linecap="round" stroke-linejoin="round" />
<path d="M543 764 C544.7 759.3 545.5 754.2 548 750 C549.9 746.8 553.3 744.7 556 742" fill="none" stroke="#6a6a6a" stroke-width="1.6" stroke-linecap="round" stroke-linejoin="round" />
<path d="M571 786 C576 782.3 581.8 779.4 586 775 C589.1 771.7 590.7 767 593 763" fill="none" stroke="#6a6a6a" stroke-width="1.6" stroke-linecap="round" stroke-linejoin="round" />
<path d="M582 791 C585.7 788 590.3 785.7 593 782 C595.9 778 597 772.7 599 768" fill="none" stroke="#6a6a6a" stroke-width="1.6" stroke-linecap="round" stroke-linejoin="round" />
<path d="M606 796 C610.3 791.7 615.9 788.1 619 783 C621.9 778.4 622.3 772.3 624 767" fill="none" stroke="#6a6a6a" stroke-width="1.6" stroke-linecap="round" stroke-linejoin="round" />
<path d="M630 797 C633.3 793.7 637.8 790.9 640 787 C642.1 783.3 642 778.3 643 774" fill="none" stroke="#6a6a6a" stroke-width="1.6" stroke-linecap="round" stroke-linejoin="round" />
<path d="M660 784 C662 781.3 664.5 778.9 666 776 C667.2 773.6 667.3 770.7 668 768" fill="none" stroke="#6a6a6a" stroke-width="1.6" stroke-linecap="round" stroke-linejoin="round" />
<path d="M503 641 C501.3 646.3 499.7 651.7 498 657 C496.7 661.3 495 665.6 494 670 C493.3 673.3 493 676.7 493 680 C493 683.3 493.1 686.8 494 690 C494.8 693 496.7 695.7 498 698.5" fill="none" stroke="#6a6a6a" stroke-width="1.6" stroke-linecap="round" stroke-linejoin="round" />
<path d="M2130 625 L2129 618" fill="none" stroke="#6a6a6a" stroke-width="1.6" stroke-linecap="round" stroke-linejoin="round" />
<path d="M2148 632 L2147 623" fill="none" stroke="#6a6a6a" stroke-width="1.6" stroke-linecap="round" stroke-linejoin="round" />
<path d="M2172 635 L2173 626" fill="none" stroke="#6a6a6a" stroke-width="1.6" stroke-linecap="round" stroke-linejoin="round" />
<path d="M2215 624 L2213 610" fill="none" stroke="#6a6a6a" stroke-width="1.6" stroke-linecap="round" stroke-linejoin="round" />
<path d="M2245 600 L2238 588" fill="none" stroke="#6a6a6a" stroke-width="1.6" stroke-linecap="round" stroke-linejoin="round" />
<path d="M2252 585 L2246 576" fill="none" stroke="#6a6a6a" stroke-width="1.6" stroke-linecap="round" stroke-linejoin="round" />
<path d="M2254 565 L2245 550" fill="none" stroke="#6a6a6a" stroke-width="1.6" stroke-linecap="round" stroke-linejoin="round" />
<line x1="307.8" y1="461" x2="307.8" y2="723" stroke="#000" stroke-width="1.8" stroke-linecap="butt"/>
<line x1="193" y1="557.5" x2="504" y2="547.3" stroke="#000" stroke-width="1.8" stroke-linecap="butt"/>
<line x1="283" y1="647.5" x2="387" y2="640.3" stroke="#000" stroke-width="1.8" stroke-linecap="butt"/>
<line x1="193" y1="1061" x2="315" y2="1050" stroke="#000" stroke-width="1.8" stroke-linecap="butt"/>
<line x1="2063.6" y1="376" x2="2063.6" y2="456" stroke="#000" stroke-width="1.8" stroke-linecap="butt"/>
<line x1="2598.4" y1="456" x2="2598.4" y2="843" stroke="#000" stroke-width="1.8" stroke-linecap="butt"/>
<line x1="1085" y1="1304.5" x2="1544" y2="1433.5" stroke="#000" stroke-width="1.8" stroke-linecap="butt"/>
<line x1="2213" y1="1069.5" x2="2244" y2="1067.3" stroke="#000" stroke-width="1.8" stroke-linecap="butt"/>
<line x1="307.5" y1="461.5" x2="2064" y2="376.2" stroke="#ec1c24" stroke-width="7" stroke-linecap="butt"/>
<line x1="2063" y1="376.2" x2="2598.5" y2="456.8" stroke="#ec1c24" stroke-width="7" stroke-linecap="butt"/>
<line x1="193.5" y1="558" x2="193.5" y2="1061" stroke="#ec1c24" stroke-width="7" stroke-linecap="butt"/>
<line x1="283.5" y1="647" x2="283.5" y2="1053" stroke="#ec1c24" stroke-width="7" stroke-linecap="butt"/>
<line x1="309" y1="946" x2="365.5" y2="1112.5" stroke="#ec1c24" stroke-width="7" stroke-linecap="butt"/>
<line x1="364" y1="844.3" x2="538.5" y2="831.5" stroke="#ec1c24" stroke-width="7" stroke-linecap="butt"/>
<line x1="538" y1="875" x2="1291.5" y2="799.3" stroke="#ec1c24" stroke-width="7" stroke-linecap="butt"/>
<line x1="1020" y1="721.5" x2="1330" y2="941.5" stroke="#ec1c24" stroke-width="7" stroke-linecap="butt"/>
<line x1="1261.5" y1="502" x2="1277.3" y2="693.5" stroke="#ec1c24" stroke-width="7" stroke-linecap="butt"/>
<line x1="1277.3" y1="693.5" x2="1471.5" y2="793.5" stroke="#ec1c24" stroke-width="7" stroke-linecap="butt"/>
<line x1="1321.5" y1="814" x2="1471.5" y2="793.5" stroke="#ec1c24" stroke-width="7" stroke-linecap="butt"/>
<line x1="1471.5" y1="793.5" x2="1915" y2="742.5" stroke="#ec1c24" stroke-width="7" stroke-linecap="butt"/>
<line x1="1471.5" y1="792" x2="1471.5" y2="1075" stroke="#ec1c24" stroke-width="7" stroke-linecap="butt"/>
<line x1="1901.5" y1="728.5" x2="2368.3" y2="673.3" stroke="#ec1c24" stroke-width="7" stroke-linecap="butt"/>
<line x1="1810" y1="646.5" x2="2255" y2="804" stroke="#ec1c24" stroke-width="7" stroke-linecap="butt"/>
<line x1="2087" y1="555.5" x2="2255" y2="564.5" stroke="#ec1c24" stroke-width="7" stroke-linecap="butt"/>
<line x1="2246.7" y1="1056.5" x2="2246.7" y2="1068.5" stroke="#ec1c24" stroke-width="7" stroke-linecap="butt"/>
<g transform="translate(1139.5 404) rotate(-2.8)">
<text x="-2.6" y="0" font-weight="700" font-size="70" fill="#000" stroke="#000" stroke-width="0.5">3</text>
<text x="34.3" y="0" font-weight="700" font-size="70" fill="#000" stroke="#000" stroke-width="0.5">5</text>
<text x="71.2" y="0" font-weight="700" font-size="70" fill="#000" stroke="#000" stroke-width="0.5">4</text>
<text x="111.4" y="0" font-weight="400" font-size="70" fill="#000" stroke="#fff" stroke-width="0.9" textLength="109.9" lengthAdjust="spacingAndGlyphs">cm</text>
</g>
<g transform="translate(2236 385) rotate(8.6)">
<path d="M0 -48.4 L19.2 -48.4 L19.2 0 L9.2 0 L9.2 -39 L0 -39.8Z" fill="#000"/>
<text x="31.2" y="0" font-weight="700" font-size="70" fill="#000" stroke="#000" stroke-width="0.5">5</text>
<text x="69.6" y="0" font-weight="700" font-size="70" fill="#000" stroke="#000" stroke-width="0.5">0</text>
<text x="107.9" y="0" font-weight="400" font-size="70" fill="#000" stroke="#fff" stroke-width="0.9" textLength="108.9" lengthAdjust="spacingAndGlyphs">cm</text>
</g>
<g transform="translate(177.4 903.4) rotate(-90)">
<text x="-3.4" y="0" font-weight="700" font-size="70" fill="#000" stroke="#000" stroke-width="0.5">7</text>
<text x="34.6" y="0" font-weight="700" font-size="70" fill="#000" stroke="#000" stroke-width="0.5">0</text>
<text x="72.8" y="0" font-weight="400" font-size="70" fill="#000" stroke="#fff" stroke-width="0.9" textLength="108.3" lengthAdjust="spacingAndGlyphs">cm</text>
</g>
<g transform="translate(266.4 928.8) rotate(-90)">
<text x="-2.5" y="0" font-weight="700" font-size="70" fill="#000" stroke="#000" stroke-width="0.5">5</text>
<text x="35.6" y="0" font-weight="700" font-size="70" fill="#000" stroke="#000" stroke-width="0.5">8</text>
<text x="73.8" y="0" font-weight="400" font-size="70" fill="#000" stroke="#fff" stroke-width="0.9" textLength="108.2" lengthAdjust="spacingAndGlyphs">cm</text>
</g>
<g transform="translate(321 931) rotate(71.2)">
<text x="-2.7" y="0" font-weight="700" font-size="70" fill="#000" stroke="#000" stroke-width="0.5">8</text>
<text x="35.1" y="0" font-weight="700" font-size="70" fill="#000" stroke="#000" stroke-width="0.5">2</text>
<text x="73.2" y="0" font-weight="400" font-size="70" fill="#000" stroke="#fff" stroke-width="0.9" textLength="108.9" lengthAdjust="spacingAndGlyphs">cm</text>
</g>
<g transform="translate(356 827.6) rotate(-3.8)">
<text x="-2.7" y="0" font-weight="700" font-size="70" fill="#000" stroke="#000" stroke-width="0.5">2</text>
<path d="M42.9 -48.4 L62.1 -48.4 L62.1 0 L52.1 0 L52.1 -39 L42.9 -39.8Z" fill="#000"/>
<text x="74" y="0" font-weight="400" font-size="70" fill="#000" stroke="#fff" stroke-width="0.9" textLength="109.9" lengthAdjust="spacingAndGlyphs">cm</text>
</g>
<g transform="translate(771 833.8) rotate(-5.4)">
<path d="M0 -48.4 L19.2 -48.4 L19.2 0 L9.2 0 L9.2 -39 L0 -39.8Z" fill="#000"/>
<text x="31.2" y="0" font-weight="700" font-size="70" fill="#000" stroke="#000" stroke-width="0.5">0</text>
<text x="69.6" y="0" font-weight="700" font-size="70" fill="#000" stroke="#000" stroke-width="0.5">0</text>
<text x="107.9" y="0" font-weight="400" font-size="70" fill="#000" stroke="#fff" stroke-width="0.9" textLength="108.9" lengthAdjust="spacingAndGlyphs">cm</text>
</g>
<g transform="translate(1070 736.5) rotate(35.3)">
<path d="M0 -48.4 L19.2 -48.4 L19.2 0 L9.2 0 L9.2 -39 L0 -39.8Z" fill="#000"/>
<text x="31.2" y="0" font-weight="700" font-size="70" fill="#000" stroke="#000" stroke-width="0.5">2</text>
<text x="69.6" y="0" font-weight="700" font-size="70" fill="#000" stroke="#000" stroke-width="0.5">0</text>
<text x="107.9" y="0" font-weight="400" font-size="70" fill="#000" stroke="#fff" stroke-width="0.9" textLength="108.9" lengthAdjust="spacingAndGlyphs">cm</text>
</g>
<g transform="translate(1261 686.5) rotate(-95.2)">
<text x="-2.6" y="0" font-weight="700" font-size="70" fill="#000" stroke="#000" stroke-width="0.5">3</text>
<text x="34.3" y="0" font-weight="700" font-size="70" fill="#000" stroke="#000" stroke-width="0.5">5</text>
<text x="71.8" y="0" font-weight="400" font-size="70" fill="#000" stroke="#fff" stroke-width="0.9" textLength="109.9" lengthAdjust="spacingAndGlyphs">cm</text>
</g>
<g transform="translate(1304.5 685.5) rotate(27.3)">
<text x="-3.1" y="0" font-weight="700" font-size="70" fill="#000" stroke="#000" stroke-width="0.5">6</text>
<text x="34.8" y="0" font-weight="700" font-size="70" fill="#000" stroke="#000" stroke-width="0.5">3</text>
<text x="72.9" y="0" font-weight="400" font-size="70" fill="#000" stroke="#fff" stroke-width="0.9" textLength="108.9" lengthAdjust="spacingAndGlyphs">cm</text>
</g>
<g transform="translate(1562.3 765.5) rotate(-6.9)">
<path d="M0 -48.4 L19.2 -48.4 L19.2 0 L9.2 0 L9.2 -39 L0 -39.8Z" fill="#000"/>
<path d="M38.4 -48.4 L57.6 -48.4 L57.6 0 L47.6 0 L47.6 -39 L38.4 -39.8Z" fill="#000"/>
<text x="69.6" y="0" font-weight="700" font-size="70" fill="#000" stroke="#000" stroke-width="0.5">0</text>
<text x="107.9" y="0" font-weight="400" font-size="70" fill="#000" stroke="#fff" stroke-width="0.9" textLength="109.9" lengthAdjust="spacingAndGlyphs">cm</text>
</g>
<g transform="translate(1488.3 838.3) rotate(90)">
<text x="-0.7" y="0" font-weight="700" font-size="70" fill="#000" stroke="#000" stroke-width="0.5">4</text>
<text x="39" y="0" font-weight="700" font-size="70" fill="#000" stroke="#000" stroke-width="0.5">3</text>
<text x="78" y="0" font-weight="400" font-size="70" fill="#000" stroke="#fff" stroke-width="0.9" textLength="104.5" lengthAdjust="spacingAndGlyphs">cm</text>
</g>
<g transform="translate(2104.2 541.4) rotate(3.5)">
<text x="-2.2" y="0" font-weight="700" font-size="70" fill="#000" stroke="#000" stroke-width="0.5">3</text>
<text x="35.4" y="0" font-weight="700" font-size="70" fill="#000" stroke="#000" stroke-width="0.5">5</text>
<text x="73.3" y="0" font-weight="400" font-size="70" fill="#000" stroke="#fff" stroke-width="0.9" textLength="107.8" lengthAdjust="spacingAndGlyphs">cm</text>
</g>
<g transform="translate(1841.5 638.7) rotate(19.2)">
<path d="M0 -48.4 L19.2 -48.4 L19.2 0 L9.2 0 L9.2 -39 L0 -39.8Z" fill="#000"/>
<text x="31.2" y="0" font-weight="700" font-size="70" fill="#000" stroke="#000" stroke-width="0.5">2</text>
<text x="69.6" y="0" font-weight="700" font-size="70" fill="#000" stroke="#000" stroke-width="0.5">0</text>
<text x="107.9" y="0" font-weight="400" font-size="70" fill="#000" stroke="#fff" stroke-width="0.9" textLength="108.9" lengthAdjust="spacingAndGlyphs">cm</text>
</g>
<g transform="translate(2080.5 691.8) rotate(-7.2)">
<path d="M0 -48.4 L19.2 -48.4 L19.2 0 L9.2 0 L9.2 -39 L0 -39.8Z" fill="#000"/>
<text x="31.2" y="0" font-weight="700" font-size="70" fill="#000" stroke="#000" stroke-width="0.5">0</text>
<text x="69.6" y="0" font-weight="700" font-size="70" fill="#000" stroke="#000" stroke-width="0.5">0</text>
<text x="107.9" y="0" font-weight="400" font-size="70" fill="#000" stroke="#fff" stroke-width="0.9" textLength="108.9" lengthAdjust="spacingAndGlyphs">cm</text>
</g>
<g transform="translate(2261.7 960) rotate(90)">
<text x="-2.6" y="0" font-weight="700" font-size="70" fill="#000" stroke="#000" stroke-width="0.5">2</text>
<text x="34.6" y="0" font-weight="700" font-size="70" fill="#000">,</text>
<text x="52.9" y="0" font-weight="700" font-size="70" fill="#000" stroke="#000" stroke-width="0.5">5</text>
<text x="91.4" y="0" font-weight="400" font-size="70" fill="#000" stroke="#fff" stroke-width="0.9" textLength="106.7" lengthAdjust="spacingAndGlyphs">cm</text>
</g>
<g transform="translate(2079.7 521.3) rotate(3.6)" fill="none" stroke="#ec1c24" stroke-linecap="butt"><ellipse cx="0" cy="0" rx="15.4" ry="15.9" stroke-width="10"/><line x1="-21" y1="16" x2="21" y2="-17" stroke-width="7"/></g>
<circle cx="1898.7" cy="1504" r="354" fill="#fff" stroke="#6a6a6a" stroke-width="7"/>
<clipPath id="cc"><circle cx="1898.7" cy="1504" r="352"/></clipPath>
<g clip-path="url(#cc)">
<path d="M2110 1217.6 C2006.7 1218.5 1903.3 1219.4 1800 1220.3 C1792.7 1220.4 1785.3 1220 1778 1220.6 C1774.6 1220.9 1771.3 1222 1768 1223 C1766.1 1223.6 1764.2 1224.3 1762.4 1225.3 C1760.5 1226.3 1758.6 1227.6 1757 1229 C1756 1229.8 1755.1 1230.8 1754.6 1232 C1753.7 1234.2 1752.7 1237 1753 1239.2 C1753.3 1241.2 1756.8 1243.2 1756.5 1244.7 C1756.2 1246.2 1752.8 1246.9 1751 1248 C1749.6 1248.8 1748 1249.5 1746.7 1250.5 C1745 1251.8 1743.4 1253.3 1742 1255 C1740.8 1256.4 1739.9 1258.2 1738.9 1259.8 C1737.9 1261.5 1736.8 1263.2 1736 1265 C1735.3 1266.6 1735 1268.3 1734.5 1270" fill="none" stroke="#6a6a6a" stroke-width="7" stroke-linecap="round" stroke-linejoin="round" />
<path d="M1734.5 1270 C1722.9 1270 1711.3 1269.6 1699.7 1269.9 C1697.1 1270 1694.5 1270.4 1692 1271 C1689.3 1271.7 1686.5 1272.6 1684 1273.9 C1678.6 1276.7 1673.5 1280.1 1668.4 1283.3 C1657.9 1290 1647.2 1296.5 1637 1303.6 C1631.5 1307.4 1626 1311.5 1621.3 1316.2 C1619.2 1318.3 1617.8 1321.2 1616.8 1324 C1615.8 1326.9 1615.4 1330.1 1615.3 1333.2 C1615.1 1339.4 1615.8 1345.7 1616 1352 C1616.3 1358.8 1616.5 1365.6 1616.8 1372.4 C1619.8 1434.9 1622.9 1497.5 1626 1560 C1626.3 1565.3 1626.2 1570.8 1627 1576 C1627.2 1577.6 1627.9 1579.5 1629 1580.5 C1630.2 1581.5 1632.3 1581.9 1634 1582 C1639.3 1582.2 1644.7 1581.5 1650 1581.3 C1660 1580.9 1670 1580.4 1680 1580" fill="none" stroke="#6a6a6a" stroke-width="7" stroke-linecap="round" stroke-linejoin="round" />
<path d="M1668 1582 Q1669 1593 1675.5 1593 Q1682 1593 1683 1582" fill="#f4f4f4" stroke="#6a6a6a" stroke-width="3" stroke-linecap="round" stroke-linejoin="round" />
<path d="M1757 1645 Q1758 1657 1774.5 1657 Q1791 1657 1792 1645" fill="#f4f4f4" stroke="#6a6a6a" stroke-width="3" stroke-linecap="round" stroke-linejoin="round" />
<path d="M2093 1642 Q2094 1654 2109 1654 Q2124 1654 2125 1642" fill="#f4f4f4" stroke="#6a6a6a" stroke-width="3" stroke-linecap="round" stroke-linejoin="round" />
<path d="M2218 1586 Q2219 1595 2227 1595 Q2235 1595 2236 1586" fill="#f4f4f4" stroke="#6a6a6a" stroke-width="3" stroke-linecap="round" stroke-linejoin="round" />
<path d="M1714.5 1419 C1710.7 1423.3 1706.8 1427.7 1703 1432 C1698.7 1436.8 1693.9 1441.4 1690 1446.5 C1687.8 1449.4 1685.8 1452.6 1684.5 1456 C1683.1 1459.5 1682.3 1463.3 1682 1467 C1680.5 1483.6 1679.4 1500.3 1679 1517 C1678.6 1531.3 1679.2 1545.7 1679.5 1560 C1679.7 1566.7 1679 1573.6 1680.5 1580 C1682.2 1587.6 1686 1594.7 1689 1602 C1691.4 1608 1693.9 1614.1 1696.7 1620 C1697.7 1622.1 1698.9 1624.3 1700.5 1626 C1702.3 1627.8 1704.6 1629.6 1707 1630.5 C1714.4 1633.3 1722.3 1635 1730 1637 C1739 1639.3 1747.9 1642.1 1757 1643.3 C1776.2 1645.9 1795.6 1647.1 1815 1648.5 C1834.3 1649.9 1853.6 1651.4 1873 1651.7 C1906.3 1652.3 1939.7 1651.9 1973 1651.2 C1995.3 1650.7 2017.7 1649.3 2040 1648 C2062.3 1646.7 2084.7 1645.4 2107 1643.3 C2121.4 1641.9 2135.7 1639.7 2150 1637.5 C2157.7 1636.3 2165.6 1635.1 2173 1633 C2176.6 1632 2180.1 1630.2 2183 1628 C2185.8 1625.9 2188.3 1623 2190 1620 C2193.6 1613.7 2196.1 1606.7 2199 1600 C2201.8 1593.4 2205.4 1586.9 2207 1580 C2209.2 1570.3 2209.8 1560 2210.5 1550 C2211.3 1539 2211.7 1528 2211.7 1517 C2211.7 1500.3 2211.7 1483.6 2210.5 1467 C2209.8 1456.6 2207.5 1446.3 2206 1436 C2205.2 1430.7 2204.3 1425.3 2203.5 1420" fill="none" stroke="#6a6a6a" stroke-width="7" stroke-linecap="round" stroke-linejoin="round" />
<path d="M2203.5 1420 C2203.8 1406.7 2203.9 1393.3 2204.5 1380 C2205.1 1366.7 2206.2 1353.3 2207 1340" fill="none" stroke="#6a6a6a" stroke-width="3" stroke-linecap="round" stroke-linejoin="round" />
<path d="M2207 1340 C2208.7 1334 2209.8 1327.8 2212 1322 C2214.8 1314.5 2218.7 1307.3 2222 1300" fill="none" stroke="#6a6a6a" stroke-width="2" stroke-linecap="round" stroke-linejoin="round" />
<path d="M2213 1406.5 C2217 1405.7 2221 1404.5 2225 1404 C2230 1403.4 2235 1403.3 2240 1403" fill="none" stroke="#6a6a6a" stroke-width="2" stroke-linecap="round" stroke-linejoin="round" />
<path d="M2208 1581 C2209.3 1582.3 2210.4 1584.1 2212 1585 C2213.7 1586 2216 1586.6 2218 1586.5 C2227 1586 2236 1584.2 2245 1583" fill="none" stroke="#6a6a6a" stroke-width="4" stroke-linecap="round" stroke-linejoin="round" />
<path d="M1714.6 1410 C1714.3 1392.2 1713.6 1374.5 1713.8 1356.7 C1713.9 1347.8 1714 1338.8 1715.4 1330.1 C1716.1 1325.7 1717.8 1321.3 1720.1 1317.6 C1721.7 1314.9 1724.6 1313.1 1727 1311 C1729.6 1308.7 1732.3 1306.5 1735 1304.2" fill="none" stroke="#4a4a4a" stroke-width="1.3" stroke-linecap="round" stroke-linejoin="round" />
<line x1="1716.5" y1="1409" x2="1718.1" y2="1406.3" stroke="#6a6a6a" stroke-width="3.2" stroke-linecap="round"/>
<line x1="1718.1" y1="1406.3" x2="1719.7" y2="1403.5" stroke="#6a6a6a" stroke-width="3.1" stroke-linecap="round"/>
<line x1="1719.7" y1="1403.5" x2="1721.3" y2="1400.8" stroke="#6a6a6a" stroke-width="3" stroke-linecap="round"/>
<line x1="1721.3" y1="1400.8" x2="1722.9" y2="1398" stroke="#6a6a6a" stroke-width="3" stroke-linecap="round"/>
<line x1="1722.9" y1="1398" x2="1724.6" y2="1395.4" stroke="#6a6a6a" stroke-width="2.9" stroke-linecap="round"/>
<line x1="1724.6" y1="1395.4" x2="1726.4" y2="1392.8" stroke="#6a6a6a" stroke-width="2.8" stroke-linecap="round"/>
<line x1="1726.4" y1="1392.8" x2="1728.6" y2="1390" stroke="#6a6a6a" stroke-width="2.7" stroke-linecap="round"/>
<line x1="1728.6" y1="1390" x2="1730.8" y2="1387.3" stroke="#6a6a6a" stroke-width="2.6" stroke-linecap="round"/>
<line x1="1730.8" y1="1387.3" x2="1733.1" y2="1384.7" stroke="#6a6a6a" stroke-width="2.5" stroke-linecap="round"/>
<line x1="1733.1" y1="1384.7" x2="1735.5" y2="1382.1" stroke="#6a6a6a" stroke-width="2.5" stroke-linecap="round"/>
<line x1="1735.5" y1="1382.1" x2="1738" y2="1379.5" stroke="#6a6a6a" stroke-width="2.4" stroke-linecap="round"/>
<line x1="1738" y1="1379.5" x2="1740.5" y2="1377.1" stroke="#6a6a6a" stroke-width="2.3" stroke-linecap="round"/>
<line x1="1740.5" y1="1377.1" x2="1742.7" y2="1375.1" stroke="#6a6a6a" stroke-width="2.2" stroke-linecap="round"/>
<line x1="1742.7" y1="1375.1" x2="1745" y2="1373.2" stroke="#6a6a6a" stroke-width="2.1" stroke-linecap="round"/>
<line x1="1745" y1="1373.2" x2="1747.3" y2="1371.3" stroke="#6a6a6a" stroke-width="2" stroke-linecap="round"/>
<line x1="1747.3" y1="1371.3" x2="1749.7" y2="1369.6" stroke="#6a6a6a" stroke-width="2" stroke-linecap="round"/>
<line x1="1749.7" y1="1369.6" x2="1752.2" y2="1367.8" stroke="#6a6a6a" stroke-width="1.9" stroke-linecap="round"/>
<line x1="1752.2" y1="1367.8" x2="1754.6" y2="1366.1" stroke="#6a6a6a" stroke-width="1.8" stroke-linecap="round"/>
<line x1="1754.6" y1="1366.1" x2="1756.9" y2="1364.6" stroke="#6a6a6a" stroke-width="1.7" stroke-linecap="round"/>
<line x1="1756.9" y1="1364.6" x2="1759.2" y2="1363.1" stroke="#6a6a6a" stroke-width="1.6" stroke-linecap="round"/>
<line x1="1759.2" y1="1363.1" x2="1761.6" y2="1361.7" stroke="#6a6a6a" stroke-width="1.5" stroke-linecap="round"/>
<line x1="1761.6" y1="1361.7" x2="1764" y2="1360.3" stroke="#6a6a6a" stroke-width="1.5" stroke-linecap="round"/>
<line x1="1764" y1="1360.3" x2="1766.3" y2="1358.9" stroke="#6a6a6a" stroke-width="1.4" stroke-linecap="round"/>
<line x1="1766.3" y1="1358.9" x2="1768.7" y2="1357.5" stroke="#6a6a6a" stroke-width="1.3" stroke-linecap="round"/>
<line x1="1866" y1="1360" x2="1880" y2="1359.3" stroke="#6a6a6a" stroke-width="1.5" stroke-linecap="round"/>
<line x1="1880" y1="1359.3" x2="1894" y2="1358.6" stroke="#6a6a6a" stroke-width="1.8" stroke-linecap="round"/>
<line x1="1894" y1="1358.6" x2="1908" y2="1357.8" stroke="#6a6a6a" stroke-width="2.1" stroke-linecap="round"/>
<line x1="1908" y1="1357.8" x2="1922" y2="1357.1" stroke="#6a6a6a" stroke-width="2.4" stroke-linecap="round"/>
<line x1="1922" y1="1357.1" x2="1936" y2="1356.5" stroke="#6a6a6a" stroke-width="2.7" stroke-linecap="round"/>
<line x1="1936" y1="1356.5" x2="1950" y2="1356" stroke="#6a6a6a" stroke-width="3" stroke-linecap="round"/>
<line x1="1950" y1="1356" x2="1964.3" y2="1355.6" stroke="#6a6a6a" stroke-width="3.2" stroke-linecap="round"/>
<line x1="1964.3" y1="1355.6" x2="1978.7" y2="1355.3" stroke="#6a6a6a" stroke-width="3.5" stroke-linecap="round"/>
<line x1="1978.7" y1="1355.3" x2="1993" y2="1355.1" stroke="#6a6a6a" stroke-width="3.8" stroke-linecap="round"/>
<line x1="1993" y1="1355.1" x2="2007.3" y2="1354.9" stroke="#6a6a6a" stroke-width="4.1" stroke-linecap="round"/>
<line x1="2007.3" y1="1354.9" x2="2021.7" y2="1354.7" stroke="#6a6a6a" stroke-width="4.4" stroke-linecap="round"/>
<line x1="2021.7" y1="1354.7" x2="2036" y2="1354.5" stroke="#6a6a6a" stroke-width="4.7" stroke-linecap="round"/>
<line x1="2036" y1="1354.5" x2="2050" y2="1354.7" stroke="#6a6a6a" stroke-width="5" stroke-linecap="round"/>
<line x1="2050" y1="1354.7" x2="2064" y2="1354.9" stroke="#6a6a6a" stroke-width="4.8" stroke-linecap="round"/>
<line x1="2064" y1="1354.9" x2="2078" y2="1355.1" stroke="#6a6a6a" stroke-width="4.5" stroke-linecap="round"/>
<line x1="2078" y1="1355.1" x2="2092" y2="1355.3" stroke="#6a6a6a" stroke-width="4.2" stroke-linecap="round"/>
<line x1="2092" y1="1355.3" x2="2106" y2="1355.6" stroke="#6a6a6a" stroke-width="4" stroke-linecap="round"/>
<line x1="2106" y1="1355.6" x2="2120" y2="1356" stroke="#6a6a6a" stroke-width="3.8" stroke-linecap="round"/>
<line x1="2120" y1="1356" x2="2133.8" y2="1356.5" stroke="#6a6a6a" stroke-width="3.5" stroke-linecap="round"/>
<line x1="2133.8" y1="1356.5" x2="2147.7" y2="1357.1" stroke="#6a6a6a" stroke-width="3.2" stroke-linecap="round"/>
<line x1="2147.7" y1="1357.1" x2="2161.5" y2="1357.8" stroke="#6a6a6a" stroke-width="3" stroke-linecap="round"/>
<line x1="2161.5" y1="1357.8" x2="2175.3" y2="1358.6" stroke="#6a6a6a" stroke-width="2.8" stroke-linecap="round"/>
<line x1="2175.3" y1="1358.6" x2="2189.2" y2="1359.3" stroke="#6a6a6a" stroke-width="2.5" stroke-linecap="round"/>
<line x1="2189.2" y1="1359.3" x2="2203" y2="1360" stroke="#6a6a6a" stroke-width="2.2" stroke-linecap="round"/>
<path d="M1693.5 1445 C1700.7 1447 1707.8 1449.2 1715 1451 C1723.3 1453 1731.6 1455.2 1740 1456.5 C1759.9 1459.7 1779.9 1462.6 1800 1464.5 C1824.3 1466.8 1848.6 1468.4 1873 1469.3 C1895.3 1470.1 1917.7 1469.9 1940 1469.5 C1962.3 1469.1 1984.7 1468.1 2007 1466.7 C2029.7 1465.3 2052.4 1463.3 2075 1461 C2096.7 1458.8 2118.4 1456.1 2140 1453.3 C2150 1452 2160.1 1450.5 2170 1448.5 C2176.8 1447.1 2183.8 1445.8 2190 1443 C2193.2 1441.6 2196 1438.8 2198 1436 C2200 1433.3 2200.7 1429.7 2202 1426.5" fill="none" stroke="#4a4a4a" stroke-width="1.3" stroke-linecap="round" stroke-linejoin="round" />
<ellipse cx="1812.5" cy="1298.5" rx="77.2" ry="72" fill="#fff"/>
<path d="M1803.1 1227 C1805.2 1226.9 1807.2 1226.6 1809.3 1226.6 C1811.4 1226.5 1813.5 1226.5 1815.6 1226.6 C1817.7 1226.6 1819.7 1226.8 1821.8 1227 C1823.9 1227.3 1825.9 1227.6 1828 1228 C1830 1228.3 1832 1228.8 1834 1229.4 C1836 1229.9 1838 1230.5 1840 1231.2 C1841.9 1231.9 1843.8 1232.7 1845.7 1233.5 C1847.6 1234.3 1849.4 1235.2 1851.2 1236.2 C1853 1237.2 1854.8 1238.2 1856.5 1239.3 C1858.2 1240.5 1859.9 1241.6 1861.5 1242.9 C1863.1 1244.1 1864.7 1245.4 1866.2 1246.7 C1867.7 1248.1 1869.1 1249.5 1870.5 1251 C1871.9 1252.4 1873.2 1253.9 1874.4 1255.5 C1875.7 1257 1876.8 1258.7 1877.9 1260.3 C1879 1261.9 1880.1 1263.6 1881 1265.4 C1882 1267.1 1882.9 1268.9 1883.7 1270.6 C1884.5 1272.4 1885.2 1274.3 1885.9 1276.1 C1886.5 1277.9 1887.1 1279.8 1887.6 1281.7 C1888.1 1283.6 1888.5 1285.5 1888.8 1287.4 C1889.1 1289.4 1889.3 1291.3 1889.5 1293.2 C1889.6 1295.2 1889.7 1297.1 1889.7 1299.1 C1889.7 1301 1889.6 1302.9 1889.4 1304.9 C1889.2 1306.8 1888.9 1308.7 1888.6 1310.7 C1888.2 1312.6 1887.8 1314.5 1887.3 1316.4 C1886.8 1318.2 1886.2 1320.1 1885.5 1321.9 C1884.8 1323.8 1884.1 1325.6 1883.2 1327.4 C1882.4 1329.2 1881.5 1330.9 1880.5 1332.6 C1879.5 1334.3 1878.4 1336 1877.3 1337.6 C1876.2 1339.3 1875 1340.9 1873.7 1342.4 C1872.4 1343.9 1871.1 1345.4 1869.7 1346.9 C1868.3 1348.3 1866.8 1349.7 1865.3 1351 C1863.8 1352.4 1862.2 1353.6 1860.6 1354.8 C1858.9 1356 1857.3 1357.2 1855.5 1358.3 C1853.8 1359.4 1852 1360.4 1850.2 1361.3 C1848.4 1362.3 1846.5 1363.2 1844.6 1364 C1842.7 1364.8 1840.8 1365.5 1838.9 1366.2 C1836.9 1366.8 1834.9 1367.4 1832.9 1367.9 C1830.9 1368.5 1828.9 1368.9 1826.8 1369.3 C1824.8 1369.6 1822.7 1369.9 1820.6 1370.1 C1818.6 1370.3 1816.5 1370.4 1814.4 1370.5 C1812.3 1370.5 1810.2 1370.5 1808.1 1370.4 C1806.1 1370.3 1804 1370.1 1801.9 1369.8 C1799.9 1369.6 1797.8 1369.2 1795.8 1368.8 C1793.7 1368.4 1791.7 1367.9 1789.7 1367.3 C1787.7 1366.7 1785.8 1366.1 1783.8 1365.4 C1781.9 1364.6 1780 1363.8 1778.1 1363 C1776.3 1362.1 1774.4 1361.2 1772.6 1360.2 C1770.9 1359.2 1769.1 1358.1 1767.4 1357 C1765.7 1355.8 1764.1 1354.6 1762.5 1353.4 C1760.9 1352.1 1759.4 1350.7 1757.9 1349.4" fill="none" stroke="#6a6a6a" stroke-width="6" stroke-linecap="round" stroke-linejoin="round" />
<line x1="1757.9" y1="1349.4" x2="1757.4" y2="1348.9" stroke="#6a6a6a" stroke-width="6" stroke-linecap="round"/>
<line x1="1757.4" y1="1348.9" x2="1756.9" y2="1348.4" stroke="#6a6a6a" stroke-width="5.9" stroke-linecap="round"/>
<line x1="1756.9" y1="1348.4" x2="1756.4" y2="1347.9" stroke="#6a6a6a" stroke-width="5.9" stroke-linecap="round"/>
<line x1="1756.4" y1="1347.9" x2="1755.9" y2="1347.4" stroke="#6a6a6a" stroke-width="5.8" stroke-linecap="round"/>
<line x1="1755.9" y1="1347.4" x2="1755.4" y2="1346.9" stroke="#6a6a6a" stroke-width="5.7" stroke-linecap="round"/>
<line x1="1755.4" y1="1346.9" x2="1754.9" y2="1346.4" stroke="#6a6a6a" stroke-width="5.6" stroke-linecap="round"/>
<line x1="1754.9" y1="1346.4" x2="1754.4" y2="1345.9" stroke="#6a6a6a" stroke-width="5.6" stroke-linecap="round"/>
<line x1="1754.4" y1="1345.9" x2="1753.9" y2="1345.4" stroke="#6a6a6a" stroke-width="5.5" stroke-linecap="round"/>
<line x1="1753.9" y1="1345.4" x2="1753.4" y2="1344.8" stroke="#6a6a6a" stroke-width="5.4" stroke-linecap="round"/>
<line x1="1753.4" y1="1344.8" x2="1752.9" y2="1344.3" stroke="#6a6a6a" stroke-width="5.3" stroke-linecap="round"/>
<line x1="1752.9" y1="1344.3" x2="1752.5" y2="1343.8" stroke="#6a6a6a" stroke-width="5.3" stroke-linecap="round"/>
<line x1="1752.5" y1="1343.8" x2="1752" y2="1343.2" stroke="#6a6a6a" stroke-width="5.2" stroke-linecap="round"/>
<line x1="1752" y1="1343.2" x2="1751.5" y2="1342.7" stroke="#6a6a6a" stroke-width="5.1" stroke-linecap="round"/>
<line x1="1751.5" y1="1342.7" x2="1751.1" y2="1342.1" stroke="#6a6a6a" stroke-width="5" stroke-linecap="round"/>
<line x1="1751.1" y1="1342.1" x2="1750.6" y2="1341.6" stroke="#6a6a6a" stroke-width="5" stroke-linecap="round"/>
<line x1="1750.6" y1="1341.6" x2="1750.2" y2="1341" stroke="#6a6a6a" stroke-width="4.9" stroke-linecap="round"/>
<line x1="1750.2" y1="1341" x2="1749.8" y2="1340.5" stroke="#6a6a6a" stroke-width="4.8" stroke-linecap="round"/>
<line x1="1749.8" y1="1340.5" x2="1749.3" y2="1339.9" stroke="#6a6a6a" stroke-width="4.8" stroke-linecap="round"/>
<line x1="1749.3" y1="1339.9" x2="1748.9" y2="1339.3" stroke="#6a6a6a" stroke-width="4.7" stroke-linecap="round"/>
<line x1="1748.9" y1="1339.3" x2="1748.5" y2="1338.8" stroke="#6a6a6a" stroke-width="4.6" stroke-linecap="round"/>
<line x1="1748.5" y1="1338.8" x2="1748.1" y2="1338.2" stroke="#6a6a6a" stroke-width="4.5" stroke-linecap="round"/>
<line x1="1748.1" y1="1338.2" x2="1747.7" y2="1337.6" stroke="#6a6a6a" stroke-width="4.5" stroke-linecap="round"/>
<line x1="1747.7" y1="1337.6" x2="1747.3" y2="1337" stroke="#6a6a6a" stroke-width="4.4" stroke-linecap="round"/>
<line x1="1747.3" y1="1337" x2="1746.9" y2="1336.4" stroke="#6a6a6a" stroke-width="4.3" stroke-linecap="round"/>
<line x1="1746.9" y1="1336.4" x2="1746.5" y2="1335.9" stroke="#6a6a6a" stroke-width="4.2" stroke-linecap="round"/>
<line x1="1746.5" y1="1335.9" x2="1746.1" y2="1335.3" stroke="#6a6a6a" stroke-width="4.2" stroke-linecap="round"/>
<line x1="1746.1" y1="1335.3" x2="1745.7" y2="1334.7" stroke="#6a6a6a" stroke-width="4.1" stroke-linecap="round"/>
<line x1="1745.7" y1="1334.7" x2="1745.4" y2="1334.1" stroke="#6a6a6a" stroke-width="4" stroke-linecap="round"/>
<line x1="1745.4" y1="1334.1" x2="1745" y2="1333.5" stroke="#6a6a6a" stroke-width="3.9" stroke-linecap="round"/>
<line x1="1745" y1="1333.5" x2="1744.7" y2="1332.9" stroke="#6a6a6a" stroke-width="3.9" stroke-linecap="round"/>
<line x1="1744.7" y1="1332.9" x2="1744.3" y2="1332.2" stroke="#6a6a6a" stroke-width="3.8" stroke-linecap="round"/>
<line x1="1744.3" y1="1332.2" x2="1744" y2="1331.6" stroke="#6a6a6a" stroke-width="3.7" stroke-linecap="round"/>
<line x1="1744" y1="1331.6" x2="1743.6" y2="1331" stroke="#6a6a6a" stroke-width="3.7" stroke-linecap="round"/>
<line x1="1743.6" y1="1331" x2="1743.3" y2="1330.4" stroke="#6a6a6a" stroke-width="3.6" stroke-linecap="round"/>
<line x1="1743.3" y1="1330.4" x2="1743" y2="1329.8" stroke="#6a6a6a" stroke-width="3.5" stroke-linecap="round"/>
<line x1="1743" y1="1329.8" x2="1742.6" y2="1329.2" stroke="#6a6a6a" stroke-width="3.4" stroke-linecap="round"/>
<line x1="1742.6" y1="1329.2" x2="1742.3" y2="1328.5" stroke="#6a6a6a" stroke-width="3.4" stroke-linecap="round"/>
<line x1="1742.3" y1="1328.5" x2="1742" y2="1327.9" stroke="#6a6a6a" stroke-width="3.3" stroke-linecap="round"/>
<line x1="1742" y1="1327.9" x2="1741.7" y2="1327.3" stroke="#6a6a6a" stroke-width="3.2" stroke-linecap="round"/>
<line x1="1741.7" y1="1327.3" x2="1741.4" y2="1326.6" stroke="#6a6a6a" stroke-width="3.1" stroke-linecap="round"/>
<line x1="1741.4" y1="1326.6" x2="1741.2" y2="1326" stroke="#6a6a6a" stroke-width="3.1" stroke-linecap="round"/>
<line x1="1741.2" y1="1326" x2="1740.9" y2="1325.4" stroke="#6a6a6a" stroke-width="3" stroke-linecap="round"/>
<line x1="1740.9" y1="1325.4" x2="1740.6" y2="1324.7" stroke="#6a6a6a" stroke-width="2.9" stroke-linecap="round"/>
<line x1="1740.6" y1="1324.7" x2="1740.3" y2="1324.1" stroke="#6a6a6a" stroke-width="2.8" stroke-linecap="round"/>
<line x1="1740.3" y1="1324.1" x2="1740.1" y2="1323.4" stroke="#6a6a6a" stroke-width="2.8" stroke-linecap="round"/>
<line x1="1740.1" y1="1323.4" x2="1739.8" y2="1322.8" stroke="#6a6a6a" stroke-width="2.7" stroke-linecap="round"/>
<line x1="1739.8" y1="1322.8" x2="1739.6" y2="1322.1" stroke="#6a6a6a" stroke-width="2.6" stroke-linecap="round"/>
<line x1="1739.6" y1="1322.1" x2="1739.3" y2="1321.5" stroke="#6a6a6a" stroke-width="2.6" stroke-linecap="round"/>
<line x1="1739.3" y1="1321.5" x2="1739.1" y2="1320.8" stroke="#6a6a6a" stroke-width="2.5" stroke-linecap="round"/>
<line x1="1739.1" y1="1320.8" x2="1738.9" y2="1320.2" stroke="#6a6a6a" stroke-width="2.4" stroke-linecap="round"/>
<line x1="1738.9" y1="1320.2" x2="1738.7" y2="1319.5" stroke="#6a6a6a" stroke-width="2.3" stroke-linecap="round"/>
<line x1="1738.7" y1="1319.5" x2="1738.4" y2="1318.8" stroke="#6a6a6a" stroke-width="2.3" stroke-linecap="round"/>
<line x1="1738.4" y1="1318.8" x2="1738.2" y2="1318.2" stroke="#6a6a6a" stroke-width="2.2" stroke-linecap="round"/>
<line x1="1738.2" y1="1318.2" x2="1738" y2="1317.5" stroke="#6a6a6a" stroke-width="2.1" stroke-linecap="round"/>
<line x1="1738" y1="1317.5" x2="1737.8" y2="1316.8" stroke="#6a6a6a" stroke-width="2" stroke-linecap="round"/>
<line x1="1737.8" y1="1316.8" x2="1737.7" y2="1316.2" stroke="#6a6a6a" stroke-width="2" stroke-linecap="round"/>
<line x1="1737.7" y1="1316.2" x2="1737.5" y2="1315.5" stroke="#6a6a6a" stroke-width="1.9" stroke-linecap="round"/>
<line x1="1737.5" y1="1315.5" x2="1737.3" y2="1314.8" stroke="#6a6a6a" stroke-width="1.8" stroke-linecap="round"/>
<line x1="1737.3" y1="1314.8" x2="1737.2" y2="1314.1" stroke="#6a6a6a" stroke-width="1.7" stroke-linecap="round"/>
<line x1="1737.2" y1="1314.1" x2="1737" y2="1313.5" stroke="#6a6a6a" stroke-width="1.7" stroke-linecap="round"/>
<path d="M1737 1313.5 C1736.7 1312.1 1736.4 1310.8 1736.2 1309.5 C1736 1308.1 1735.8 1306.8 1735.7 1305.4 C1735.5 1304 1735.4 1302.7 1735.4 1301.3 C1735.3 1300 1735.3 1298.6 1735.3 1297.2 C1735.3 1295.9 1735.4 1294.5 1735.5 1293.2 C1735.6 1291.8 1735.8 1290.5 1736 1289.1 C1736.2 1287.8 1736.4 1286.4 1736.7 1285.1 C1736.9 1283.7 1737.3 1282.4 1737.6 1281.1" fill="none" stroke="#6a6a6a" stroke-width="1.6" stroke-linecap="round" stroke-linejoin="round" />
<path d="M1751.7 1254.2 C1752.7 1253 1753.7 1251.8 1754.8 1250.6 C1755.9 1249.5 1757.1 1248.4 1758.2 1247.3 C1759.4 1246.2 1760.6 1245.2 1761.9 1244.2 C1763.1 1243.2 1764.4 1242.2 1765.7 1241.3 C1767 1240.3 1768.3 1239.4 1769.7 1238.6 C1771.1 1237.7 1772.5 1236.9 1773.9 1236.1 C1775.3 1235.4 1776.8 1234.7 1778.3 1234 C1779.7 1233.3 1781.2 1232.7 1782.7 1232.1 C1784.3 1231.5 1785.8 1230.9 1787.4 1230.4 C1788.9 1229.9 1790.5 1229.5 1792.1 1229.1 C1793.7 1228.7 1795.3 1228.3 1796.9 1228 C1798.5 1227.7 1800.1 1227.5 1801.8 1227.2" fill="none" stroke="#6a6a6a" stroke-width="1.6" stroke-linecap="round" stroke-linejoin="round" />
<path d="M1738 1283 L1756 1281" fill="none" stroke="#6a6a6a" stroke-width="1.6" stroke-linecap="round" stroke-linejoin="round" />
<path d="M1752 1332 L1762 1326" fill="none" stroke="#6a6a6a" stroke-width="1.6" stroke-linecap="round" stroke-linejoin="round" />
<path d="M1778 1362 L1789 1353" fill="none" stroke="#6a6a6a" stroke-width="1.6" stroke-linecap="round" stroke-linejoin="round" />
<path d="M1830 1370 L1833 1360" fill="none" stroke="#6a6a6a" stroke-width="1.6" stroke-linecap="round" stroke-linejoin="round" />
<path d="M1876 1346 L1872 1337" fill="none" stroke="#6a6a6a" stroke-width="1.6" stroke-linecap="round" stroke-linejoin="round" />
</g>
<line x1="1622.3" y1="1580" x2="1622.3" y2="1680" stroke="#000" stroke-width="1.8" stroke-linecap="butt"/>
<line x1="2191" y1="1620" x2="2191" y2="1680" stroke="#000" stroke-width="1.8" stroke-linecap="butt"/>
<line x1="1713.3" y1="1418.7" x2="2199.3" y2="1418.7" stroke="#ec1c24" stroke-width="7" stroke-linecap="butt"/>
<line x1="1621.5" y1="1680" x2="2192.5" y2="1680" stroke="#ec1c24" stroke-width="7" stroke-linecap="butt"/>
<g transform="translate(1903.8 1408.4) rotate(0)">
<path d="M0 -48.4 L19.2 -48.4 L19.2 0 L9.2 0 L9.2 -39 L0 -39.8Z" fill="#000"/>
<text x="31.2" y="0" font-weight="700" font-size="70" fill="#000" stroke="#000" stroke-width="0.5">0</text>
<text x="69.6" y="0" font-weight="700" font-size="70" fill="#000" stroke="#000" stroke-width="0.5">0</text>
<text x="107.9" y="0" font-weight="400" font-size="70" fill="#000" stroke="#fff" stroke-width="0.9" textLength="108.9" lengthAdjust="spacingAndGlyphs">cm</text>
</g>
<g transform="translate(1822.2 1739.2) rotate(0)">
<path d="M0 -48.4 L19.2 -48.4 L19.2 0 L9.2 0 L9.2 -39 L0 -39.8Z" fill="#000"/>
<text x="31.2" y="0" font-weight="700" font-size="70" fill="#000" stroke="#000" stroke-width="0.5">2</text>
<text x="69.6" y="0" font-weight="700" font-size="70" fill="#000" stroke="#000" stroke-width="0.5">0</text>
<text x="107.9" y="0" font-weight="400" font-size="70" fill="#000" stroke="#fff" stroke-width="0.9" textLength="108.9" lengthAdjust="spacingAndGlyphs">cm</text>
</g>
<path d="M340 1477 L637 1477 Q685.5 1477 685.5 1518 L685.5 1690 L290 1722 L290 1551 L290 1551 C295 1559.8 299 1569.4 305 1577.5 C312.3 1587.4 320.7 1597 330 1605 C339 1612.8 349.2 1620.1 360 1625 C374.2 1631.4 389.7 1635.8 405 1638.8 C420 1641.7 435.7 1641.3 451 1642.6 L451 1642.3 C444 1639.5 436.6 1637.4 430 1633.8 C422.9 1630 416.1 1625.3 410 1620 C401.1 1612.3 392.3 1604.2 385 1595 C376.4 1584.2 368.8 1572.3 362.5 1560 C356.3 1548.1 351.6 1535.3 347.5 1522.5 C345.1 1515.3 344.2 1507.5 343 1500 C341.7 1492.4 341 1484.7 340 1477Z" fill="#666"/>
<polygon points="526.8,1494.5 528.9,1500.7 535.6,1500.9 530.3,1504.9 532.2,1511.3 526.8,1507.5 521.3,1511.3 523.2,1504.9 517.9,1500.9 524.6,1500.7" fill="#fff"/>
<polygon points="655.8,1499.5 657.9,1505.7 664.6,1505.9 659.3,1509.9 661.2,1516.3 655.8,1512.5 650.3,1516.3 652.2,1509.9 646.9,1505.9 653.6,1505.7" fill="#fff"/>
<polygon points="413.2,1516.2 415.4,1522.5 422.1,1522.6 416.8,1526.6 418.7,1533 413.2,1529.2 407.8,1533 409.7,1526.6 404.4,1522.6 411.1,1522.5" fill="#fff"/>
<polygon points="559,1537 561.2,1543.2 567.8,1543.4 562.5,1547.4 564.5,1553.8 559,1550 553.5,1553.8 555.5,1547.4 550.2,1543.4 556.8,1543.2" fill="#fff"/>
<polygon points="475,1587 477.2,1593.2 483.8,1593.4 478.5,1597.4 480.5,1603.8 475,1600 469.5,1603.8 471.5,1597.4 466.2,1593.4 472.8,1593.2" fill="#fff"/>
<polygon points="560.5,1586.2 562.7,1592.5 569.3,1592.6 564,1596.6 566,1603 560.5,1599.2 555,1603 557,1596.6 551.7,1592.6 558.3,1592.5" fill="#fff"/>
<polygon points="631.8,1602 633.9,1608.2 640.6,1608.4 635.3,1612.4 637.2,1618.8 631.8,1615 626.3,1618.8 628.2,1612.4 622.9,1608.4 629.6,1608.2" fill="#fff"/>
<polygon points="325.2,1637.5 327.4,1643.7 334.1,1643.9 328.8,1647.9 330.7,1654.3 325.2,1650.5 319.8,1654.3 321.7,1647.9 316.4,1643.9 323.1,1643.7" fill="#fff"/>
<polygon points="433,1484.9 434.3,1488.7 438.3,1488.8 435.1,1491.2 436.3,1495 433,1492.7 429.7,1495 430.9,1491.2 427.7,1488.8 431.7,1488.7" fill="#fff"/>
<polygon points="383,1497.4 384.3,1501.2 388.3,1501.3 385.1,1503.7 386.3,1507.5 383,1505.2 379.7,1507.5 380.9,1503.7 377.7,1501.3 381.7,1501.2" fill="#fff"/>
<polygon points="615.8,1488.7 617.1,1492.4 621.1,1492.5 617.9,1494.9 619,1498.8 615.8,1496.5 612.5,1498.8 613.6,1494.9 610.4,1492.5 614.4,1492.4" fill="#fff"/>
<polygon points="448,1508.9 449.3,1512.7 453.3,1512.8 450.1,1515.2 451.3,1519 448,1516.7 444.7,1519 445.9,1515.2 442.7,1512.8 446.7,1512.7" fill="#fff"/>
<polygon points="567.5,1506.2 568.8,1509.9 572.8,1510 569.6,1512.4 570.8,1516.3 567.5,1514 564.2,1516.3 565.4,1512.4 562.2,1510 566.2,1509.9" fill="#fff"/>
<polygon points="606.2,1508.9 607.6,1512.7 611.6,1512.8 608.4,1515.2 609.5,1519 606.2,1516.7 603,1519 604.1,1515.2 600.9,1512.8 604.9,1512.7" fill="#fff"/>
<polygon points="496.5,1518.9 497.8,1522.7 501.8,1522.8 498.6,1525.2 499.8,1529 496.5,1526.7 493.2,1529 494.4,1525.2 491.2,1522.8 495.2,1522.7" fill="#fff"/>
<polygon points="453.2,1527.4 454.6,1531.2 458.6,1531.3 455.4,1533.7 456.5,1537.5 453.2,1535.2 450,1537.5 451.1,1533.7 447.9,1531.3 451.9,1531.2" fill="#fff"/>
<polygon points="524.5,1533.4 525.8,1537.2 529.8,1537.3 526.6,1539.7 527.8,1543.5 524.5,1541.2 521.2,1543.5 522.4,1539.7 519.2,1537.3 523.2,1537.2" fill="#fff"/>
<polygon points="635.8,1539.4 637.1,1543.2 641.1,1543.3 637.9,1545.7 639,1549.5 635.8,1547.2 632.5,1549.5 633.6,1545.7 630.4,1543.3 634.4,1543.2" fill="#fff"/>
<polygon points="412.5,1552.4 413.8,1556.2 417.8,1556.3 414.6,1558.7 415.8,1562.5 412.5,1560.2 409.2,1562.5 410.4,1558.7 407.2,1556.3 411.2,1556.2" fill="#fff"/>
<polygon points="462.5,1553.4 463.8,1557.2 467.8,1557.3 464.6,1559.7 465.8,1563.5 462.5,1561.2 459.2,1563.5 460.4,1559.7 457.2,1557.3 461.2,1557.2" fill="#fff"/>
<polygon points="475.2,1553.4 476.6,1557.2 480.6,1557.3 477.4,1559.7 478.5,1563.5 475.2,1561.2 472,1563.5 473.1,1559.7 469.9,1557.3 473.9,1557.2" fill="#fff"/>
<polygon points="594.8,1551.4 596.1,1555.2 600.1,1555.3 596.9,1557.7 598,1561.5 594.8,1559.2 591.5,1561.5 592.6,1557.7 589.4,1555.3 593.4,1555.2" fill="#fff"/>
<polygon points="391.2,1569.2 392.6,1572.9 396.6,1573 393.4,1575.4 394.5,1579.3 391.2,1577 388,1579.3 389.1,1575.4 385.9,1573 389.9,1572.9" fill="#fff"/>
<polygon points="506.2,1567.7 507.6,1571.4 511.6,1571.5 508.4,1573.9 509.5,1577.8 506.2,1575.5 503,1577.8 504.1,1573.9 500.9,1571.5 504.9,1571.4" fill="#fff"/>
<polygon points="541,1565.9 542.3,1569.7 546.3,1569.8 543.1,1572.2 544.3,1576 541,1573.7 537.7,1576 538.9,1572.2 535.7,1569.8 539.7,1569.7" fill="#fff"/>
<polygon points="435.2,1575.2 436.6,1578.9 440.6,1579 437.4,1581.4 438.5,1585.3 435.2,1583 432,1585.3 433.1,1581.4 429.9,1579 433.9,1578.9" fill="#fff"/>
<polygon points="647.8,1570.7 649.1,1574.4 653.1,1574.5 649.9,1576.9 651,1580.8 647.8,1578.5 644.5,1580.8 645.6,1576.9 642.4,1574.5 646.4,1574.4" fill="#fff"/>
<polygon points="402,1584.9 403.3,1588.7 407.3,1588.8 404.1,1591.2 405.3,1595 402,1592.7 398.7,1595 399.9,1591.2 396.7,1588.8 400.7,1588.7" fill="#fff"/>
<polygon points="514.5,1598.4 515.8,1602.2 519.8,1602.3 516.6,1604.7 517.8,1608.5 514.5,1606.2 511.2,1608.5 512.4,1604.7 509.2,1602.3 513.2,1602.2" fill="#fff"/>
<polygon points="606,1597.7 607.3,1601.4 611.3,1601.5 608.1,1603.9 609.3,1607.8 606,1605.5 602.7,1607.8 603.9,1603.9 600.7,1601.5 604.7,1601.4" fill="#fff"/>
<polygon points="325.2,1606.4 326.6,1610.2 330.6,1610.3 327.4,1612.7 328.5,1616.5 325.2,1614.2 322,1616.5 323.1,1612.7 319.9,1610.3 323.9,1610.2" fill="#fff"/>
<polygon points="308,1619.7 309.3,1623.4 313.3,1623.5 310.1,1625.9 311.3,1629.8 308,1627.5 304.7,1629.8 305.9,1625.9 302.7,1623.5 306.7,1623.4" fill="#fff"/>
<polygon points="382,1634.7 383.3,1638.4 387.3,1638.5 384.1,1640.9 385.3,1644.8 382,1642.5 378.7,1644.8 379.9,1640.9 376.7,1638.5 380.7,1638.4" fill="#fff"/>
<polygon points="365.5,1660.7 366.8,1664.4 370.8,1664.5 367.6,1666.9 368.8,1670.8 365.5,1668.5 362.2,1670.8 363.4,1666.9 360.2,1664.5 364.2,1664.4" fill="#fff"/>
<polygon points="505.2,1482.1 505.9,1484.1 508,1484.1 506.4,1485.4 507,1487.3 505.2,1486.2 503.5,1487.3 504.1,1485.4 502.5,1484.1 504.6,1484.1" fill="#fff"/>
<polygon points="476.2,1498.8 476.9,1500.8 479,1500.9 477.4,1502.1 478,1504.1 476.2,1502.9 474.5,1504.1 475.1,1502.1 473.5,1500.9 475.6,1500.8" fill="#fff"/>
<polygon points="578,1491.3 578.7,1493.3 580.8,1493.4 579.1,1494.6 579.7,1496.6 578,1495.4 576.3,1496.6 576.9,1494.6 575.2,1493.4 577.3,1493.3" fill="#fff"/>
<polygon points="630,1503.1 630.7,1505.1 632.8,1505.1 631.1,1506.4 631.7,1508.3 630,1507.2 628.3,1508.3 628.9,1506.4 627.2,1505.1 629.3,1505.1" fill="#fff"/>
<polygon points="546.5,1515.8 547.2,1517.8 549.3,1517.9 547.6,1519.1 548.2,1521.1 546.5,1519.9 544.8,1521.1 545.4,1519.1 543.7,1517.9 545.8,1517.8" fill="#fff"/>
<polygon points="560.5,1515.8 561.2,1517.8 563.3,1517.9 561.6,1519.1 562.2,1521.1 560.5,1519.9 558.8,1521.1 559.4,1519.1 557.7,1517.9 559.8,1517.8" fill="#fff"/>
<polygon points="484.5,1523.8 485.2,1525.8 487.3,1525.9 485.6,1527.1 486.2,1529.1 484.5,1527.9 482.8,1529.1 483.4,1527.1 481.7,1525.9 483.8,1525.8" fill="#fff"/>
<polygon points="581.2,1526.3 581.9,1528.3 584,1528.4 582.4,1529.6 583,1531.6 581.2,1530.4 579.5,1531.6 580.1,1529.6 578.5,1528.4 580.6,1528.3" fill="#fff"/>
<polygon points="378.2,1534.6 378.9,1536.6 381,1536.6 379.4,1537.9 380,1539.8 378.2,1538.7 376.5,1539.8 377.1,1537.9 375.5,1536.6 377.6,1536.6" fill="#fff"/>
<polygon points="663.8,1537.6 664.4,1539.6 666.5,1539.6 664.9,1540.9 665.5,1542.8 663.8,1541.7 662,1542.8 662.6,1540.9 661,1539.6 663.1,1539.6" fill="#fff"/>
<polygon points="493.5,1545.6 494.2,1547.6 496.3,1547.6 494.6,1548.9 495.2,1550.8 493.5,1549.7 491.8,1550.8 492.4,1548.9 490.7,1547.6 492.8,1547.6" fill="#fff"/>
<polygon points="605,1569.3 605.7,1571.3 607.8,1571.4 606.1,1572.6 606.7,1574.6 605,1573.4 603.3,1574.6 603.9,1572.6 602.2,1571.4 604.3,1571.3" fill="#fff"/>
<polygon points="532.2,1571.6 532.9,1573.6 535,1573.6 533.4,1574.9 534,1576.8 532.2,1575.7 530.5,1576.8 531.1,1574.9 529.5,1573.6 531.6,1573.6" fill="#fff"/>
<polygon points="573.2,1584.8 573.9,1586.8 576,1586.9 574.4,1588.1 575,1590.1 573.2,1588.9 571.5,1590.1 572.1,1588.1 570.5,1586.9 572.6,1586.8" fill="#fff"/>
<polygon points="308,1592.8 308.7,1594.8 310.8,1594.9 309.1,1596.1 309.7,1598.1 308,1596.9 306.3,1598.1 306.9,1596.1 305.2,1594.9 307.3,1594.8" fill="#fff"/>
<polygon points="534.8,1596.6 535.4,1598.6 537.5,1598.6 535.9,1599.9 536.5,1601.8 534.8,1600.7 533,1601.8 533.6,1599.9 532,1598.6 534.1,1598.6" fill="#fff"/>
<polygon points="436.2,1601.8 436.9,1603.8 439,1603.9 437.4,1605.1 438,1607.1 436.2,1605.9 434.5,1607.1 435.1,1605.1 433.5,1603.9 435.6,1603.8" fill="#fff"/>
<polygon points="663,1604.8 663.7,1606.8 665.8,1606.9 664.1,1608.1 664.7,1610.1 663,1608.9 661.3,1610.1 661.9,1608.1 660.2,1606.9 662.3,1606.8" fill="#fff"/>
<polygon points="482.5,1612.6 483.2,1614.6 485.3,1614.6 483.6,1615.9 484.2,1617.8 482.5,1616.7 480.8,1617.8 481.4,1615.9 479.7,1614.6 481.8,1614.6" fill="#fff"/>
<polygon points="446.2,1615.1 446.9,1617.1 449,1617.1 447.4,1618.4 448,1620.3 446.2,1619.2 444.5,1620.3 445.1,1618.4 443.5,1617.1 445.6,1617.1" fill="#fff"/>
<polygon points="351.5,1633.8 352.2,1635.8 354.3,1635.9 352.6,1637.1 353.2,1639.1 351.5,1637.9 349.8,1639.1 350.4,1637.1 348.7,1635.9 350.8,1635.8" fill="#fff"/>
<polygon points="356.8,1637.1 357.4,1639.1 359.5,1639.1 357.9,1640.4 358.5,1642.3 356.8,1641.2 355,1642.3 355.6,1640.4 354,1639.1 356.1,1639.1" fill="#fff"/>
<polygon points="409.8,1656.6 410.4,1658.6 412.5,1658.6 410.9,1659.9 411.5,1661.8 409.8,1660.7 408,1661.8 408.6,1659.9 407,1658.6 409.1,1658.6" fill="#fff"/>
<polygon points="334.5,1675.6 335.2,1677.6 337.3,1677.6 335.6,1678.9 336.2,1680.8 334.5,1679.7 332.8,1680.8 333.4,1678.9 331.7,1677.6 333.8,1677.6" fill="#fff"/>
<polygon points="248.8,1730.8 248.8,1770 517.5,1833.8 747.5,1720 748.8,1685 435,1675" fill="#fafafa" stroke="#fff" stroke-width="3" stroke-linejoin="round"/>
<path d="M735 1689.5 L748.5 1684 L748.5 1687 Z" fill="#ec1c24"/>
<path d="M248.8 1730 L435 1675.5 L605 1685 L653.8 1713 L517.5 1777 Q390 1740 248.8 1730Z" fill="#ec1c24"/>
<path d="M249.5 1731.2 L249.5 1770" fill="none" stroke="#666" stroke-width="2.5" stroke-linecap="round" stroke-linejoin="round" />
<path d="M248.8 1770.8 L517.5 1832 L747 1721.2" fill="none" stroke="#666" stroke-width="5" stroke-linecap="round" stroke-linejoin="round" />
<path d="M747.5 1720 L748.5 1686.2" fill="none" stroke="#666" stroke-width="2" stroke-linecap="round" stroke-linejoin="round" />
<ellipse cx="516.5" cy="1803" rx="3.6" ry="25" fill="#666"/>
<path d="M431.5 1667.2 C431.5 1664.9 439 1661.5 443.1 1659.2 C448 1656.3 453.6 1654.6 458.4 1651.5 C462.8 1648.7 466.5 1644.6 470.7 1641.5 C474.2 1639 477.7 1636.5 481.5 1634.6 C485.4 1632.6 489.6 1630.9 493.8 1629.7 C497.8 1628.6 502.5 1629.1 506.1 1627.7 C507.6 1627.1 507.8 1624.5 509.1 1623.5 C510.9 1622.3 513.2 1621.1 515.3 1621.1 C519.3 1621 523.5 1622.8 527.6 1623.1 C535.2 1623.6 543 1623.3 550.6 1623.5 C558.3 1623.8 566.3 1623.1 573.7 1624.6 C581.6 1626.2 589.2 1629.8 596.8 1633.1 C603.6 1636 610.2 1639.6 616.7 1643 C619.4 1644.4 624.9 1645.7 624.4 1647.7 C623.4 1651.6 617 1657.3 612.1 1660.7 C602.6 1667.3 591.6 1672 581.4 1677.6 C574 1681.7 565.3 1684.9 559.1 1689.9 C557.1 1691.5 558.5 1695.8 556.8 1697.6 C554.6 1699.9 550.8 1702 547.6 1702.2 C544.1 1702.5 540.2 1700.7 536.8 1699.1 C533.5 1697.6 531.1 1693.8 527.6 1693 C517.8 1690.7 506.6 1692.7 496.9 1689.9 C485.1 1686.6 474.7 1678.4 463 1674.6 C456.7 1672.5 449.5 1673.8 443.1 1672.3 C439 1671.3 431.5 1669.2 431.5 1667.2Z" fill="#fff" stroke="#fff" stroke-width="2"/>
<path d="M558.3 1689.9 C556.6 1686.2 560.5 1676.2 564.5 1671.5 C570.8 1663.9 580.2 1657.9 589.1 1653 C597.6 1648.4 607.3 1645.7 616.7 1643 C622.7 1641.4 629.1 1640 635.2 1640 C640.3 1640 645.4 1642.5 650.6 1643 C665.9 1644.8 681.6 1644 696.7 1646.9 C707.3 1648.9 717.4 1653.5 727.4 1657.6 C734.8 1660.7 742.4 1664.3 748.9 1668.4 C749.8 1668.9 750.4 1670.8 749.7 1671.5 C743.3 1677 735.6 1683.2 727.4 1686.9 C712.8 1693.4 695.4 1695.4 681.3 1702.2 C677.5 1704.1 676.8 1710.1 673.6 1713 C671.6 1714.8 668.4 1716.3 665.9 1716.1 C662.8 1715.8 659.6 1713.3 656.7 1711.4 C654.4 1710 653.2 1706.7 650.6 1706.1 C635.7 1702.6 619.7 1702 604.4 1699.1 C594.1 1697.2 584 1693.5 573.7 1691.5 C568.7 1690.5 559.7 1692.9 558.3 1689.9Z" fill="#fff" stroke="#fff" stroke-width="2"/>
<path d="M443.1 1670.7 C449.7 1671 456.6 1669.9 463 1671.5 C474.6 1674.3 485.2 1681.3 496.9 1683.8 C507.8 1686.1 520 1683.6 530.7 1686.1 C535.4 1687.2 538.6 1693.1 543 1694.5 C545.7 1695.4 549.5 1694.1 552.2 1693 C553.3 1692.6 553.7 1691 554.5 1689.9" fill="none" stroke="#777" stroke-width="1.3" stroke-linecap="round" stroke-linejoin="round" />
<path d="M564.5 1689.9 C570.1 1690.2 575.9 1689.5 581.4 1690.7 C591.8 1693 601.6 1698.4 612.1 1700.7 C624.7 1703.4 638.3 1702.6 650.6 1705.6 C654.2 1706.5 656.5 1710.5 659.8 1712.2 C662.6 1713.7 666.1 1715.7 669 1715.3 C672.2 1714.9 675.9 1712.4 678.2 1709.9 C680 1708 679 1703.4 681.3 1702.2 C690.3 1697.7 702.1 1696.9 712 1693 C721.6 1689.2 730.8 1684.2 739.7 1679.2 C742.5 1677.6 744.8 1675.1 747.4 1673" fill="none" stroke="#777" stroke-width="1.3" stroke-linecap="round" stroke-linejoin="round" />
<path d="M572.2 1629.2 C580.4 1631.5 588.8 1633.1 596.8 1636.1 C603.7 1638.8 610 1643.2 616.7 1646.1 C618.3 1646.8 620 1646.6 621.7 1646.9" fill="none" stroke="#777" stroke-width="1.3" stroke-linecap="round" stroke-linejoin="round" />
<path d="M696.7 1649.2 C706.9 1652.5 717.3 1655.5 727.4 1659.2 C734.2 1661.7 740.7 1664.8 747.4 1667.6" fill="none" stroke="#777" stroke-width="1.3" stroke-linecap="round" stroke-linejoin="round" />
<path d="M556 1671.8 Q567.6 1643 603.2 1650.7 Q578.3 1659.2 556 1671.8Z" fill="#666"/>
<path d="M678.2 1691.8 Q690.5 1662.3 725.4 1669.9 Q701.3 1679.2 678.2 1691.8Z" fill="#666"/>
<path d="M242.5 1790 L517.5 1857.5 L760 1739.5" fill="none" stroke="#ec1c24" stroke-width="6" stroke-linecap="round" stroke-linejoin="round" />
<path d="M277.5 1782.5 L242.5 1790 L258.8 1815" fill="none" stroke="#ec1c24" stroke-width="5" stroke-linecap="round" stroke-linejoin="round" />
<path d="M731.2 1739.5 L760 1739.5 L747.5 1770" fill="none" stroke="#ec1c24" stroke-width="5" stroke-linecap="round" stroke-linejoin="round" />
<g transform="translate(0 1695.8)">
<text x="764.6" y="0" font-weight="700" font-size="78" fill="#666" stroke="#666" stroke-width="0.8">3</text>
<path d="M815.4 -53.9 L836.8 -53.9 L836.8 0 L825.6 0 L825.6 -43.5 L815.4 -44.3Z" fill="#666"/>
<text x="850.2" y="0" font-weight="700" font-size="78" fill="#666" stroke="#666" stroke-width="0.8">0</text>
<text x="911.2" y="0" font-weight="700" font-size="78" fill="#666" stroke="#666" stroke-width="0.8">x</text>
<path d="M982.6 -53.9 L1004 -53.9 L1004 0 L992.9 0 L992.9 -43.5 L982.6 -44.3Z" fill="#666"/>
<text x="1017.4" y="0" font-weight="700" font-size="78" fill="#666" stroke="#666" stroke-width="0.8">0</text>
<text x="1060.2" y="0" font-weight="700" font-size="78" fill="#666" stroke="#666" stroke-width="0.8">0</text>
</g>
</svg>
</body></html>
